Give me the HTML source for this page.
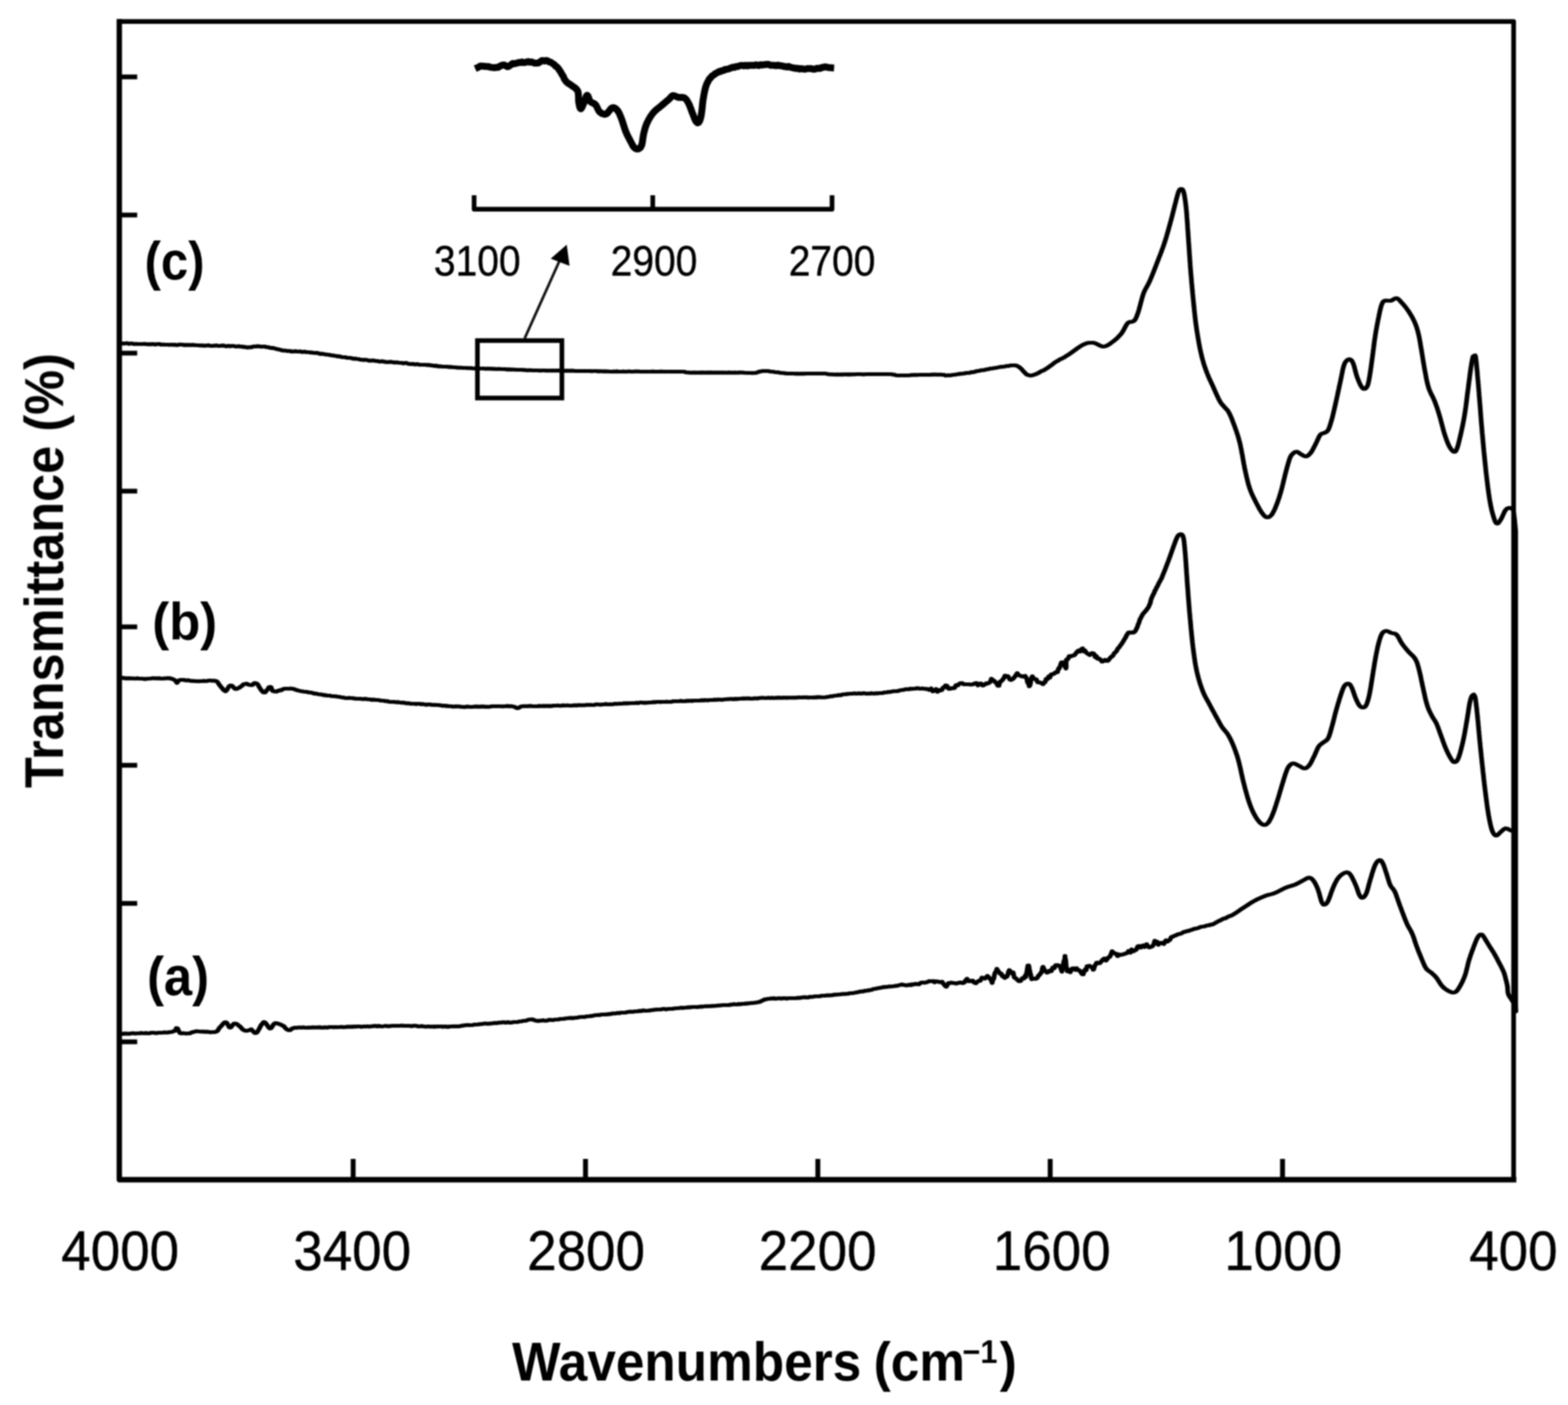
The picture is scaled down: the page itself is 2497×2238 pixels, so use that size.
<!DOCTYPE html>
<html><head><meta charset="utf-8"><title>FTIR spectra</title>
<style>
html,body{margin:0;padding:0;background:#fff;}
body{width:2497px;height:2238px;overflow:hidden;}
svg{display:block;}
text{font-family:"Liberation Sans",sans-serif;fill:#000;}
</style></head><body>
<svg width="2497" height="2238" viewBox="0 0 2497 2238">
<defs><filter id="soft" x="0" y="0" width="2497" height="2238" filterUnits="userSpaceOnUse"><feGaussianBlur stdDeviation="1.15"/></filter></defs>
<rect width="2497" height="2238" fill="#fff"/>
<g filter="url(#soft)">
<path d="M190 34.3H2410.4V1879.1" fill="none" stroke="#000" stroke-width="7.5" stroke-linejoin="round"/>
<path d="M190 30.3V1879.1H2414.7" fill="none" stroke="#000" stroke-width="8.6" stroke-linejoin="round"/>
<line x1="562.4" y1="1879" x2="562.4" y2="1846" stroke="#000" stroke-width="7.8"/>
<line x1="932.4" y1="1879" x2="932.4" y2="1846" stroke="#000" stroke-width="7.8"/>
<line x1="1302.4" y1="1879" x2="1302.4" y2="1846" stroke="#000" stroke-width="7.8"/>
<line x1="1672.4" y1="1879" x2="1672.4" y2="1846" stroke="#000" stroke-width="7.8"/>
<line x1="2042.4" y1="1879" x2="2042.4" y2="1846" stroke="#000" stroke-width="7.8"/>
<line x1="190" y1="122.5" x2="218.5" y2="122.5" stroke="#000" stroke-width="7.6"/>
<line x1="190" y1="342.5" x2="218.5" y2="342.5" stroke="#000" stroke-width="7.6"/>
<line x1="190" y1="562.5" x2="218.5" y2="562.5" stroke="#000" stroke-width="7.6"/>
<line x1="190" y1="782.3" x2="218.5" y2="782.3" stroke="#000" stroke-width="7.6"/>
<line x1="190" y1="998.5" x2="218.5" y2="998.5" stroke="#000" stroke-width="7.6"/>
<line x1="190" y1="1219" x2="218.5" y2="1219" stroke="#000" stroke-width="7.6"/>
<line x1="190" y1="1439" x2="218.5" y2="1439" stroke="#000" stroke-width="7.6"/>
<line x1="190" y1="1659.5" x2="218.5" y2="1659.5" stroke="#000" stroke-width="7.6"/>
<path d="M2410.5 812L2412.5 828L2414.2 846V1609" fill="none" stroke="#000" stroke-width="6.4" stroke-linecap="round" stroke-linejoin="round"/>
<g fill="none" stroke="#000" stroke-width="5.8" stroke-linejoin="round" stroke-linecap="round"><path transform="translate(-0.85 0)" d="M191.7 1646.7L193.1 1647.0L194.9 1646.9L196.8 1646.3L199.0 1646.5L201.4 1646.4L204.0 1646.6L206.7 1646.6L209.6 1645.9L212.5 1645.7L215.4 1646.5L218.4 1646.0L221.4 1646.2L224.3 1645.4L227.2 1645.7L230.0 1645.9L232.5 1645.4L235.1 1646.0L237.8 1645.9L240.6 1645.0L243.4 1644.9L246.3 1645.4L249.2 1645.7L252.1 1645.1L254.9 1644.9L257.7 1645.0L260.4 1644.5L263.0 1644.6L265.4 1644.7L267.7 1644.6L269.8 1644.2L271.7 1644.0L273.3 1643.7L277.9 1642.3L279.9 1639.9L280.7 1637.6L281.7 1637.6L283.0 1638.4L283.9 1640.8L284.9 1642.9L286.7 1645.5L288.8 1646.1L291.4 1645.7L294.3 1646.1L297.2 1646.4L300.0 1646.2L302.4 1646.0L304.6 1644.7L306.9 1644.2L309.7 1643.3L313.3 1642.5L315.4 1642.8L317.8 1643.2L320.5 1643.3L323.4 1643.2L326.3 1643.6L329.3 1643.3L332.2 1643.7L335.0 1644.4L337.6 1644.1L339.8 1643.9L341.7 1644.0L345.2 1643.0L347.1 1641.1L348.3 1638.7L350.0 1636.6L351.8 1634.8L353.6 1632.9L355.5 1630.5L357.3 1628.8L359.0 1628.3L360.6 1628.7L362.1 1630.7L363.6 1633.8L365.1 1636.2L366.7 1636.8L368.6 1635.5L370.4 1632.8L372.4 1630.7L375.0 1630.5L376.6 1630.9L378.4 1632.0L380.4 1634.0L382.4 1635.3L384.4 1637.5L386.4 1639.7L388.3 1640.8L390.0 1641.7L392.9 1641.8L395.4 1641.3L397.7 1640.7L400.0 1639.5L402.1 1641.6L404.0 1643.8L406.0 1645.5L408.3 1645.2L409.6 1644.1L411.0 1641.7L412.5 1639.2L414.0 1636.3L415.6 1633.1L417.1 1631.5L418.6 1629.3L420.0 1628.0L421.8 1628.6L423.5 1630.3L425.2 1632.6L426.9 1635.2L428.5 1637.4L430.0 1638.4L431.7 1637.7L433.3 1635.7L434.8 1632.9L436.4 1630.9L438.3 1629.7L440.4 1629.9L442.8 1630.6L445.3 1631.4L447.7 1632.4L450.0 1633.6L452.1 1634.6L454.1 1637.2L456.1 1639.2L458.0 1640.3L460.0 1641.2L461.7 1640.9L462.9 1640.3L465.2 1638.2L470.0 1636.9L471.6 1637.3L473.4 1636.9L475.3 1636.6L477.4 1636.6L479.6 1636.9L481.9 1636.5L484.3 1636.6L486.8 1637.0L489.4 1636.8L492.1 1636.7L494.9 1636.8L497.8 1636.4L500.8 1636.7L503.8 1636.7L506.9 1636.5L510.1 1636.4L513.3 1637.1L515.4 1636.7L517.5 1636.3L519.7 1636.7L521.9 1636.8L524.2 1636.0L526.5 1635.9L528.9 1636.0L531.3 1636.5L533.8 1635.8L536.3 1636.3L538.8 1636.2L541.3 1636.0L543.9 1635.6L546.5 1636.3L549.1 1636.1L551.7 1635.7L554.3 1635.3L556.9 1635.7L559.5 1635.4L562.1 1635.5L564.7 1635.2L567.3 1635.4L569.9 1634.8L572.5 1635.0L575.0 1635.6L577.5 1635.4L580.0 1634.8L582.5 1635.3L585.0 1634.7L587.6 1635.3L590.2 1635.0L592.8 1634.7L595.5 1634.4L598.1 1634.1L600.8 1635.0L603.5 1634.1L606.1 1634.8L608.8 1634.9L611.5 1634.5L614.1 1634.0L616.7 1634.7L619.3 1634.7L621.9 1634.4L624.4 1634.2L626.9 1634.0L629.4 1634.0L631.8 1633.8L634.1 1634.2L636.4 1634.0L638.6 1633.7L640.8 1633.6L642.8 1634.2L644.8 1633.8L646.7 1634.0L650.3 1633.8L653.6 1634.4L656.5 1634.5L659.2 1633.7L661.6 1634.0L663.9 1634.2L666.1 1635.0L668.2 1634.9L670.4 1634.5L672.5 1634.5L674.8 1635.1L677.3 1635.3L680.0 1635.4L682.3 1634.9L684.7 1635.4L687.2 1635.3L689.7 1635.1L692.2 1635.6L694.8 1634.9L697.4 1635.4L700.0 1634.8L702.6 1634.9L705.2 1635.7L707.8 1634.9L710.3 1635.5L712.8 1635.3L715.3 1635.5L717.7 1634.9L720.0 1634.8L722.8 1634.7L725.4 1635.1L727.9 1634.7L730.4 1634.8L732.8 1634.6L735.2 1633.6L737.6 1633.8L740.1 1633.1L742.5 1632.8L745.1 1632.6L747.7 1633.1L750.4 1632.8L753.3 1632.6L755.6 1632.0L758.1 1632.0L760.6 1632.0L763.2 1631.4L765.9 1631.4L768.7 1630.8L771.5 1630.4L774.2 1630.4L777.0 1630.8L779.8 1630.3L782.5 1630.4L785.1 1629.8L787.7 1629.4L790.1 1629.7L792.5 1629.6L794.7 1628.6L796.7 1629.2L800.2 1628.4L803.2 1628.4L805.8 1629.1L808.2 1628.2L810.5 1628.5L812.7 1629.2L815.0 1628.6L817.4 1628.1L820.0 1628.0L822.4 1627.8L824.9 1627.9L827.5 1626.8L830.1 1627.1L832.8 1626.1L835.5 1626.2L838.1 1625.7L840.5 1624.6L842.8 1624.2L844.9 1624.1L846.7 1623.6L849.4 1624.4L850.2 1624.5L851.8 1625.3L857.0 1626.5L858.5 1625.7L860.1 1626.0L861.8 1625.7L863.5 1625.5L865.4 1625.1L867.3 1625.9L869.3 1625.8L871.3 1625.6L873.5 1624.6L875.8 1624.5L878.3 1624.7L880.8 1624.9L883.5 1624.2L886.3 1624.1L889.2 1623.8L892.3 1623.1L895.5 1623.1L898.9 1622.6L902.4 1622.2L906.1 1621.7L910.0 1621.5L911.8 1622.0L913.7 1621.3L915.6 1621.3L917.5 1621.1L919.5 1621.2L921.4 1620.4L923.5 1620.1L925.5 1619.9L927.6 1619.7L929.7 1620.0L931.8 1619.8L934.0 1619.0L936.2 1618.8L938.4 1618.7L940.7 1618.5L943.0 1618.3L945.3 1617.7L947.6 1617.2L950.0 1617.1L952.4 1616.7L954.8 1616.9L957.3 1616.2L959.8 1615.9L962.3 1616.2L964.8 1615.6L967.4 1615.8L970.0 1615.2L972.6 1615.3L975.2 1614.3L977.9 1614.4L980.6 1614.4L983.3 1613.4L986.0 1614.0L988.8 1612.9L991.5 1613.2L994.4 1613.2L997.2 1612.7L1000.0 1611.9L1002.9 1611.5L1005.8 1611.6L1008.8 1611.7L1011.7 1610.8L1014.7 1611.2L1017.7 1610.2L1020.7 1610.7L1023.7 1609.5L1025.8 1609.6L1028.0 1610.1L1030.2 1609.8L1032.5 1609.7L1034.8 1609.5L1037.1 1609.2L1039.5 1608.9L1042.0 1608.3L1044.4 1608.3L1046.9 1607.9L1049.5 1608.2L1052.1 1608.0L1054.7 1607.4L1057.3 1607.0L1060.0 1607.8L1062.7 1607.4L1065.4 1607.0L1068.1 1606.8L1070.9 1606.9L1073.6 1606.3L1076.4 1606.1L1079.2 1605.8L1082.0 1605.6L1084.8 1605.2L1087.7 1605.6L1090.5 1605.2L1093.4 1605.1L1096.2 1604.4L1099.1 1604.6L1101.9 1604.2L1104.8 1604.0L1107.6 1603.9L1110.4 1604.3L1113.3 1603.7L1116.1 1603.5L1118.9 1603.5L1121.7 1603.0L1124.5 1602.6L1127.2 1602.9L1130.0 1602.7L1132.7 1602.7L1135.4 1602.3L1138.0 1602.4L1140.7 1602.2L1143.3 1601.6L1145.9 1601.6L1148.5 1601.4L1151.0 1601.0L1153.5 1601.0L1155.9 1601.0L1158.3 1601.2L1160.7 1601.0L1163.0 1600.2L1165.3 1600.4L1167.5 1599.7L1169.7 1599.5L1171.8 1599.8L1173.9 1600.0L1176.0 1599.2L1177.9 1599.6L1179.8 1599.6L1181.7 1598.8L1183.5 1599.1L1185.2 1599.1L1186.9 1598.5L1188.5 1598.6L1190.0 1598.5L1196.5 1597.7L1201.6 1597.3L1205.7 1596.7L1208.8 1596.2L1211.2 1595.2L1212.9 1594.2L1214.1 1593.8L1215.1 1593.2L1215.9 1593.1L1216.7 1592.8L1217.8 1591.7L1219.2 1591.9L1221.1 1591.6L1223.7 1590.8L1225.8 1590.8L1227.9 1590.3L1230.0 1590.7L1232.1 1589.9L1234.3 1590.8L1236.5 1590.6L1238.7 1590.4L1240.9 1590.0L1243.2 1590.6L1245.6 1590.6L1248.0 1589.8L1250.5 1590.4L1253.1 1590.5L1255.7 1590.2L1258.5 1590.2L1261.3 1589.9L1264.2 1590.2L1267.3 1590.2L1270.4 1589.4L1273.7 1589.6L1275.8 1589.1L1277.9 1588.7L1280.1 1588.7L1282.5 1588.3L1284.8 1588.9L1287.3 1588.8L1289.8 1587.7L1292.3 1588.0L1294.9 1587.6L1297.6 1587.1L1300.2 1587.1L1302.9 1586.8L1305.7 1587.0L1308.4 1586.1L1311.2 1586.0L1314.0 1586.0L1316.7 1585.4L1319.5 1585.7L1322.3 1585.4L1325.0 1585.4L1327.8 1584.5L1330.5 1584.3L1333.1 1584.3L1335.8 1583.8L1338.4 1583.9L1340.9 1583.3L1343.4 1583.4L1345.9 1583.3L1348.2 1583.0L1350.6 1582.9L1352.8 1582.3L1354.9 1581.9L1357.0 1582.1L1360.3 1581.5L1363.3 1580.9L1366.3 1580.3L1369.1 1579.7L1371.8 1579.1L1374.4 1579.3L1377.0 1578.1L1379.4 1578.3L1381.8 1577.6L1384.1 1577.5L1386.4 1576.8L1388.6 1576.6L1390.8 1575.3L1393.0 1575.2L1395.3 1574.8L1397.5 1574.1L1399.8 1573.9L1402.1 1573.3L1404.5 1573.1L1407.0 1572.2L1409.5 1572.3L1412.1 1572.0L1414.7 1571.5L1417.3 1571.3L1419.9 1571.4L1422.5 1571.0L1425.2 1570.5L1427.8 1570.4L1430.4 1569.7L1433.1 1569.0L1435.7 1568.2L1438.2 1568.7L1440.8 1569.2L1443.2 1569.7L1445.7 1569.4L1448.1 1568.3L1450.4 1569.3L1452.7 1567.7L1454.9 1568.4L1457.0 1567.1L1460.2 1567.5L1463.2 1567.8L1466.2 1565.6L1469.2 1564.8L1472.0 1565.5L1474.7 1564.9L1477.3 1564.0L1479.8 1562.7L1482.1 1563.1L1484.3 1563.0L1486.4 1562.6L1488.3 1564.7L1490.0 1563.1L1494.2 1563.6L1496.6 1564.5L1498.2 1564.2L1500.0 1563.7L1502.0 1566.7L1503.8 1568.6L1505.4 1570.8L1507.0 1571.7L1508.2 1569.5L1509.1 1568.3L1510.3 1565.9L1512.5 1566.0L1514.4 1565.1L1516.8 1565.7L1519.6 1565.8L1522.4 1566.7L1525.2 1566.1L1527.8 1565.2L1530.0 1564.8L1532.9 1566.1L1535.2 1565.3L1537.4 1562.0L1540.0 1559.2L1542.0 1563.0L1544.2 1562.1L1546.5 1563.1L1548.9 1562.0L1551.4 1565.1L1554.0 1566.3L1556.2 1563.9L1558.6 1562.3L1561.1 1562.3L1563.7 1557.2L1566.2 1558.0L1568.5 1558.8L1570.7 1556.4L1572.5 1554.5L1574.7 1557.0L1576.3 1559.0L1577.5 1559.8L1578.7 1561.9L1580.0 1565.7L1580.9 1561.3L1581.8 1558.0L1582.6 1559.0L1583.4 1554.2L1584.3 1550.2L1585.3 1548.2L1586.3 1547.3L1587.5 1543.3L1589.1 1546.2L1590.8 1548.1L1592.7 1551.1L1594.6 1551.0L1596.5 1555.3L1598.4 1555.3L1600.0 1557.8L1601.7 1555.0L1603.2 1556.0L1604.6 1553.5L1606.0 1547.9L1607.4 1545.2L1609.0 1548.4L1610.5 1548.0L1612.0 1550.7L1613.5 1549.2L1615.1 1556.7L1616.7 1558.0L1618.3 1558.7L1620.0 1560.6L1622.5 1562.8L1625.3 1562.5L1628.0 1558.2L1630.5 1558.7L1632.5 1554.3L1633.6 1556.3L1634.4 1550.6L1635.1 1549.7L1635.6 1545.4L1636.2 1542.0L1636.8 1538.3L1637.5 1539.1L1638.1 1537.9L1638.7 1539.7L1639.4 1545.3L1640.0 1546.5L1640.7 1551.7L1641.4 1552.2L1642.2 1557.6L1643.0 1559.8L1644.0 1559.0L1646.2 1558.6L1648.7 1559.3L1651.4 1558.1L1654.0 1553.9L1656.0 1552.4L1657.4 1549.5L1658.3 1549.5L1659.0 1548.2L1659.9 1542.4L1661.0 1540.1L1662.8 1544.0L1664.9 1546.5L1667.2 1549.3L1670.0 1548.1L1671.9 1545.9L1674.1 1547.0L1676.5 1541.3L1678.9 1542.3L1681.2 1537.3L1683.3 1537.6L1685.0 1537.5L1687.2 1538.4L1688.6 1540.7L1689.8 1544.1L1691.0 1547.7L1691.6 1544.5L1692.2 1542.9L1692.8 1538.1L1693.3 1537.5L1693.9 1532.2L1694.4 1530.5L1695.0 1529.5L1695.5 1528.2L1696.0 1522.6L1696.4 1527.2L1696.8 1529.1L1697.1 1528.8L1697.4 1532.1L1697.7 1536.4L1698.1 1541.3L1698.6 1541.6L1699.2 1546.4L1700.0 1547.3L1702.0 1545.1L1704.4 1548.6L1707.1 1542.8L1709.9 1542.4L1712.5 1544.9L1714.6 1542.4L1716.9 1545.4L1719.1 1545.6L1721.2 1548.7L1723.2 1551.6L1725.0 1552.1L1726.8 1546.4L1728.3 1544.2L1729.7 1545.5L1731.0 1539.0L1732.5 1538.8L1734.7 1538.3L1737.0 1539.8L1739.2 1541.1L1741.0 1544.7L1741.9 1543.9L1742.3 1541.3L1743.0 1539.4L1745.0 1535.8L1746.6 1533.4L1748.6 1533.7L1751.0 1534.4L1753.6 1531.7L1756.2 1528.6L1758.8 1526.7L1761.2 1530.2L1763.3 1527.4L1765.0 1525.2L1767.4 1524.1L1768.7 1521.3L1769.6 1518.9L1771.0 1515.2L1772.8 1517.0L1774.6 1518.6L1776.9 1518.9L1780.0 1523.0L1782.0 1520.3L1784.2 1521.1L1786.6 1520.7L1789.2 1520.0L1791.8 1519.0L1794.6 1518.2L1797.3 1514.7L1800.0 1517.5L1802.2 1512.3L1804.5 1515.4L1807.0 1514.0L1809.4 1512.8L1811.9 1507.5L1814.3 1506.7L1816.6 1509.5L1818.8 1506.9L1820.7 1505.7L1822.5 1508.5L1826.0 1504.0L1828.5 1508.2L1830.5 1509.3L1832.5 1508.1L1834.3 1507.8L1835.7 1506.6L1837.1 1504.7L1839.0 1498.5L1840.8 1501.2L1842.6 1500.0L1844.7 1504.9L1847.2 1502.1L1850.0 1501.6L1851.6 1502.7L1853.3 1503.6L1855.0 1500.2L1856.9 1497.9L1858.8 1499.9L1860.8 1498.4L1863.0 1497.1L1865.2 1492.7L1867.6 1491.9L1870.0 1490.7L1872.0 1490.1L1874.1 1489.0L1876.2 1488.1L1878.5 1487.7L1880.8 1487.0L1883.2 1485.7L1885.6 1484.3L1888.0 1484.1L1890.4 1483.0L1892.9 1482.8L1895.3 1481.7L1897.7 1481.1L1900.0 1480.2L1902.5 1479.3L1905.2 1479.0L1907.9 1478.3L1910.6 1477.0L1913.3 1476.2L1915.9 1475.9L1918.6 1475.5L1921.1 1474.4L1923.6 1474.1L1925.9 1473.8L1928.0 1472.6L1930.0 1472.9L1932.9 1471.6L1935.3 1470.1L1937.3 1469.0L1939.2 1468.0L1941.0 1466.9L1942.9 1466.4L1945.0 1465.0L1947.1 1464.1L1949.2 1462.8L1951.4 1462.9L1953.6 1461.3L1955.8 1460.4L1958.1 1459.1L1960.3 1458.6L1962.5 1457.5L1964.7 1456.3L1966.9 1454.9L1969.1 1453.5L1971.2 1452.0L1973.4 1450.5L1975.6 1448.9L1977.8 1447.4L1980.0 1446.0L1982.2 1444.6L1984.4 1443.1L1986.6 1441.7L1988.8 1440.3L1990.9 1438.9L1993.1 1437.5L1995.3 1436.2L1997.5 1435.0L1999.7 1433.8L2001.9 1432.7L2004.2 1431.6L2006.4 1430.6L2008.6 1429.6L2010.8 1428.7L2012.9 1427.8L2015.0 1427.0L2017.6 1426.1L2020.1 1425.4L2022.5 1424.8L2024.9 1424.2L2027.4 1423.4L2030.0 1422.5L2032.1 1421.6L2034.3 1420.6L2036.5 1419.5L2038.8 1418.3L2041.0 1417.1L2043.2 1416.0L2045.4 1414.9L2047.5 1414.0L2050.2 1413.0L2052.8 1412.1L2055.3 1411.4L2057.8 1410.6L2060.2 1409.9L2062.5 1409.0L2064.8 1408.0L2066.9 1406.9L2069.1 1405.7L2071.1 1404.6L2073.1 1403.5L2075.0 1402.5L2077.7 1401.0L2080.3 1399.5L2082.7 1398.3L2085.0 1398.0L2087.1 1398.6L2089.0 1399.9L2090.8 1401.7L2092.5 1404.0L2093.6 1405.7L2094.8 1407.7L2095.8 1409.9L2096.9 1412.2L2098.0 1414.8L2099.0 1417.5L2099.8 1419.8L2100.6 1422.4L2101.4 1425.2L2102.1 1428.1L2102.9 1430.9L2103.6 1433.5L2104.3 1435.7L2105.0 1437.5L2107.3 1440.9L2109.5 1441.0L2111.2 1440.2L2113.0 1438.4L2115.0 1435.0L2115.7 1433.4L2116.5 1431.4L2117.4 1429.2L2118.2 1426.8L2119.1 1424.3L2119.9 1421.8L2120.8 1419.4L2121.7 1417.1L2122.5 1415.0L2123.6 1412.5L2124.6 1410.1L2125.7 1407.8L2126.8 1405.6L2127.9 1403.6L2128.9 1401.7L2130.0 1400.0L2131.9 1397.5L2133.8 1395.5L2135.6 1393.9L2137.5 1392.5L2140.1 1390.9L2142.6 1389.8L2145.0 1389.5L2147.0 1390.0L2148.9 1391.4L2151.0 1394.0L2152.1 1395.7L2153.2 1397.7L2154.4 1400.1L2155.6 1402.5L2156.8 1405.1L2157.9 1407.6L2159.0 1410.0L2160.0 1412.4L2160.9 1414.9L2161.8 1417.5L2162.6 1420.0L2163.4 1422.3L2164.2 1424.3L2165.0 1426.0L2166.7 1428.6L2168.3 1430.0L2170.0 1430.0L2171.4 1429.3L2172.9 1427.9L2174.4 1425.7L2176.0 1422.5L2176.7 1420.7L2177.4 1418.5L2178.1 1416.1L2178.8 1413.5L2179.5 1410.8L2180.2 1408.1L2181.0 1405.3L2181.7 1402.6L2182.5 1400.0L2183.3 1397.4L2184.1 1394.7L2184.9 1391.9L2185.8 1389.2L2186.6 1386.5L2187.5 1383.9L2188.3 1381.5L2189.2 1379.3L2190.0 1377.5L2191.8 1374.3L2193.6 1372.0L2195.4 1370.6L2197.0 1370.0L2198.9 1370.5L2200.6 1372.5L2202.5 1376.0L2203.3 1377.8L2204.1 1379.9L2204.9 1382.3L2205.8 1384.9L2206.6 1387.6L2207.5 1390.2L2208.3 1392.7L2209.0 1395.0L2209.9 1397.8L2210.7 1400.5L2211.5 1403.1L2212.2 1405.5L2213.1 1407.8L2214.0 1410.0L2215.3 1412.2L2216.7 1414.0L2218.1 1415.7L2219.6 1417.6L2221.0 1420.0L2222.0 1422.1L2222.9 1424.5L2223.8 1427.0L2224.7 1429.6L2225.7 1432.3L2226.6 1434.9L2227.5 1437.5L2228.4 1440.0L2229.3 1442.5L2230.3 1445.0L2231.2 1447.5L2232.1 1450.0L2233.0 1452.5L2234.0 1455.0L2234.8 1457.2L2235.7 1459.4L2236.5 1461.7L2237.4 1463.9L2238.3 1466.1L2239.2 1468.3L2240.1 1470.4L2241.0 1472.5L2242.1 1474.7L2243.2 1476.8L2244.4 1478.8L2245.6 1480.9L2246.8 1482.9L2247.9 1485.1L2249.0 1487.5L2249.9 1489.8L2250.8 1492.1L2251.7 1494.6L2252.5 1497.2L2253.3 1499.8L2254.2 1502.4L2255.1 1505.0L2256.0 1507.5L2256.9 1509.7L2257.7 1512.0L2258.6 1514.4L2259.5 1516.7L2260.5 1519.0L2261.4 1521.2L2262.3 1523.4L2263.1 1525.5L2264.0 1527.5L2265.0 1530.0L2266.0 1532.4L2267.0 1534.7L2267.9 1536.9L2268.9 1538.9L2269.9 1540.8L2271.0 1542.5L2272.7 1544.5L2274.5 1546.0L2276.4 1547.4L2278.3 1548.6L2280.0 1550.0L2282.0 1551.8L2283.8 1553.4L2285.6 1555.3L2287.5 1557.5L2288.9 1559.4L2290.2 1561.5L2291.7 1563.8L2293.1 1566.0L2294.5 1568.1L2296.0 1570.0L2297.8 1571.9L2299.5 1573.6L2301.3 1575.0L2303.1 1576.3L2305.0 1577.5L2307.5 1578.9L2310.1 1580.1L2312.7 1580.9L2315.0 1581.0L2317.0 1580.5L2318.8 1579.5L2320.5 1577.7L2322.5 1575.0L2323.5 1573.4L2324.6 1571.6L2325.7 1569.6L2326.9 1567.5L2328.1 1565.2L2329.3 1562.7L2330.4 1560.2L2331.5 1557.6L2332.5 1555.0L2333.3 1552.8L2334.0 1550.5L2334.7 1548.0L2335.3 1545.6L2335.9 1543.0L2336.6 1540.4L2337.2 1537.8L2337.8 1535.2L2338.5 1532.6L2339.2 1530.0L2340.0 1527.5L2340.8 1525.2L2341.6 1522.7L2342.4 1520.2L2343.3 1517.7L2344.2 1515.1L2345.2 1512.6L2346.1 1510.2L2346.9 1507.8L2347.8 1505.6L2348.6 1503.5L2349.3 1501.7L2350.0 1500.0L2351.6 1496.2L2352.9 1493.7L2354.0 1491.9L2355.0 1490.5L2356.8 1488.8L2358.5 1488.5L2360.0 1488.8L2362.0 1491.0L2363.0 1492.5L2364.3 1494.4L2365.6 1496.7L2367.0 1499.1L2368.5 1501.5L2370.0 1504.0L2371.2 1505.9L2372.4 1507.9L2373.7 1509.9L2375.1 1512.0L2376.4 1514.1L2377.7 1516.1L2378.9 1518.1L2380.0 1520.0L2381.3 1522.3L2382.5 1524.5L2383.7 1526.6L2384.7 1528.6L2385.8 1530.8L2387.0 1533.0L2388.1 1535.1L2389.2 1537.2L2390.4 1539.4L2391.5 1541.7L2392.6 1543.9L2393.6 1546.0L2394.5 1548.0L2395.5 1550.6L2396.2 1553.1L2396.9 1555.4L2397.4 1557.7L2398.0 1560.0L2398.6 1562.2L2399.1 1564.4L2399.6 1566.6L2400.1 1568.8L2400.5 1571.0L2400.8 1573.4L2400.9 1575.9L2401.1 1578.4L2401.3 1580.8L2401.8 1583.0L2402.8 1585.5L2404.1 1587.7L2405.6 1589.8L2407.0 1592.0L2408.4 1594.2L2410.0 1596.4L2411.4 1598.7L2412.5 1601.0L2413.2 1603.7L2413.6 1606.6L2413.8 1609.2L2414.0 1611.0"/><path transform="translate(0.85 0)" d="M191.7 1646.7L193.1 1647.0L194.9 1646.9L196.8 1646.3L199.0 1646.5L201.4 1646.4L204.0 1646.6L206.7 1646.6L209.6 1645.9L212.5 1645.7L215.4 1646.5L218.4 1646.0L221.4 1646.2L224.3 1645.4L227.2 1645.7L230.0 1645.9L232.5 1645.4L235.1 1646.0L237.8 1645.9L240.6 1645.0L243.4 1644.9L246.3 1645.4L249.2 1645.7L252.1 1645.1L254.9 1644.9L257.7 1645.0L260.4 1644.5L263.0 1644.6L265.4 1644.7L267.7 1644.6L269.8 1644.2L271.7 1644.0L273.3 1643.7L277.9 1642.3L279.9 1639.9L280.7 1637.6L281.7 1637.6L283.0 1638.4L283.9 1640.8L284.9 1642.9L286.7 1645.5L288.8 1646.1L291.4 1645.7L294.3 1646.1L297.2 1646.4L300.0 1646.2L302.4 1646.0L304.6 1644.7L306.9 1644.2L309.7 1643.3L313.3 1642.5L315.4 1642.8L317.8 1643.2L320.5 1643.3L323.4 1643.2L326.3 1643.6L329.3 1643.3L332.2 1643.7L335.0 1644.4L337.6 1644.1L339.8 1643.9L341.7 1644.0L345.2 1643.0L347.1 1641.1L348.3 1638.7L350.0 1636.6L351.8 1634.8L353.6 1632.9L355.5 1630.5L357.3 1628.8L359.0 1628.3L360.6 1628.7L362.1 1630.7L363.6 1633.8L365.1 1636.2L366.7 1636.8L368.6 1635.5L370.4 1632.8L372.4 1630.7L375.0 1630.5L376.6 1630.9L378.4 1632.0L380.4 1634.0L382.4 1635.3L384.4 1637.5L386.4 1639.7L388.3 1640.8L390.0 1641.7L392.9 1641.8L395.4 1641.3L397.7 1640.7L400.0 1639.5L402.1 1641.6L404.0 1643.8L406.0 1645.5L408.3 1645.2L409.6 1644.1L411.0 1641.7L412.5 1639.2L414.0 1636.3L415.6 1633.1L417.1 1631.5L418.6 1629.3L420.0 1628.0L421.8 1628.6L423.5 1630.3L425.2 1632.6L426.9 1635.2L428.5 1637.4L430.0 1638.4L431.7 1637.7L433.3 1635.7L434.8 1632.9L436.4 1630.9L438.3 1629.7L440.4 1629.9L442.8 1630.6L445.3 1631.4L447.7 1632.4L450.0 1633.6L452.1 1634.6L454.1 1637.2L456.1 1639.2L458.0 1640.3L460.0 1641.2L461.7 1640.9L462.9 1640.3L465.2 1638.2L470.0 1636.9L471.6 1637.3L473.4 1636.9L475.3 1636.6L477.4 1636.6L479.6 1636.9L481.9 1636.5L484.3 1636.6L486.8 1637.0L489.4 1636.8L492.1 1636.7L494.9 1636.8L497.8 1636.4L500.8 1636.7L503.8 1636.7L506.9 1636.5L510.1 1636.4L513.3 1637.1L515.4 1636.7L517.5 1636.3L519.7 1636.7L521.9 1636.8L524.2 1636.0L526.5 1635.9L528.9 1636.0L531.3 1636.5L533.8 1635.8L536.3 1636.3L538.8 1636.2L541.3 1636.0L543.9 1635.6L546.5 1636.3L549.1 1636.1L551.7 1635.7L554.3 1635.3L556.9 1635.7L559.5 1635.4L562.1 1635.5L564.7 1635.2L567.3 1635.4L569.9 1634.8L572.5 1635.0L575.0 1635.6L577.5 1635.4L580.0 1634.8L582.5 1635.3L585.0 1634.7L587.6 1635.3L590.2 1635.0L592.8 1634.7L595.5 1634.4L598.1 1634.1L600.8 1635.0L603.5 1634.1L606.1 1634.8L608.8 1634.9L611.5 1634.5L614.1 1634.0L616.7 1634.7L619.3 1634.7L621.9 1634.4L624.4 1634.2L626.9 1634.0L629.4 1634.0L631.8 1633.8L634.1 1634.2L636.4 1634.0L638.6 1633.7L640.8 1633.6L642.8 1634.2L644.8 1633.8L646.7 1634.0L650.3 1633.8L653.6 1634.4L656.5 1634.5L659.2 1633.7L661.6 1634.0L663.9 1634.2L666.1 1635.0L668.2 1634.9L670.4 1634.5L672.5 1634.5L674.8 1635.1L677.3 1635.3L680.0 1635.4L682.3 1634.9L684.7 1635.4L687.2 1635.3L689.7 1635.1L692.2 1635.6L694.8 1634.9L697.4 1635.4L700.0 1634.8L702.6 1634.9L705.2 1635.7L707.8 1634.9L710.3 1635.5L712.8 1635.3L715.3 1635.5L717.7 1634.9L720.0 1634.8L722.8 1634.7L725.4 1635.1L727.9 1634.7L730.4 1634.8L732.8 1634.6L735.2 1633.6L737.6 1633.8L740.1 1633.1L742.5 1632.8L745.1 1632.6L747.7 1633.1L750.4 1632.8L753.3 1632.6L755.6 1632.0L758.1 1632.0L760.6 1632.0L763.2 1631.4L765.9 1631.4L768.7 1630.8L771.5 1630.4L774.2 1630.4L777.0 1630.8L779.8 1630.3L782.5 1630.4L785.1 1629.8L787.7 1629.4L790.1 1629.7L792.5 1629.6L794.7 1628.6L796.7 1629.2L800.2 1628.4L803.2 1628.4L805.8 1629.1L808.2 1628.2L810.5 1628.5L812.7 1629.2L815.0 1628.6L817.4 1628.1L820.0 1628.0L822.4 1627.8L824.9 1627.9L827.5 1626.8L830.1 1627.1L832.8 1626.1L835.5 1626.2L838.1 1625.7L840.5 1624.6L842.8 1624.2L844.9 1624.1L846.7 1623.6L849.4 1624.4L850.2 1624.5L851.8 1625.3L857.0 1626.5L858.5 1625.7L860.1 1626.0L861.8 1625.7L863.5 1625.5L865.4 1625.1L867.3 1625.9L869.3 1625.8L871.3 1625.6L873.5 1624.6L875.8 1624.5L878.3 1624.7L880.8 1624.9L883.5 1624.2L886.3 1624.1L889.2 1623.8L892.3 1623.1L895.5 1623.1L898.9 1622.6L902.4 1622.2L906.1 1621.7L910.0 1621.5L911.8 1622.0L913.7 1621.3L915.6 1621.3L917.5 1621.1L919.5 1621.2L921.4 1620.4L923.5 1620.1L925.5 1619.9L927.6 1619.7L929.7 1620.0L931.8 1619.8L934.0 1619.0L936.2 1618.8L938.4 1618.7L940.7 1618.5L943.0 1618.3L945.3 1617.7L947.6 1617.2L950.0 1617.1L952.4 1616.7L954.8 1616.9L957.3 1616.2L959.8 1615.9L962.3 1616.2L964.8 1615.6L967.4 1615.8L970.0 1615.2L972.6 1615.3L975.2 1614.3L977.9 1614.4L980.6 1614.4L983.3 1613.4L986.0 1614.0L988.8 1612.9L991.5 1613.2L994.4 1613.2L997.2 1612.7L1000.0 1611.9L1002.9 1611.5L1005.8 1611.6L1008.8 1611.7L1011.7 1610.8L1014.7 1611.2L1017.7 1610.2L1020.7 1610.7L1023.7 1609.5L1025.8 1609.6L1028.0 1610.1L1030.2 1609.8L1032.5 1609.7L1034.8 1609.5L1037.1 1609.2L1039.5 1608.9L1042.0 1608.3L1044.4 1608.3L1046.9 1607.9L1049.5 1608.2L1052.1 1608.0L1054.7 1607.4L1057.3 1607.0L1060.0 1607.8L1062.7 1607.4L1065.4 1607.0L1068.1 1606.8L1070.9 1606.9L1073.6 1606.3L1076.4 1606.1L1079.2 1605.8L1082.0 1605.6L1084.8 1605.2L1087.7 1605.6L1090.5 1605.2L1093.4 1605.1L1096.2 1604.4L1099.1 1604.6L1101.9 1604.2L1104.8 1604.0L1107.6 1603.9L1110.4 1604.3L1113.3 1603.7L1116.1 1603.5L1118.9 1603.5L1121.7 1603.0L1124.5 1602.6L1127.2 1602.9L1130.0 1602.7L1132.7 1602.7L1135.4 1602.3L1138.0 1602.4L1140.7 1602.2L1143.3 1601.6L1145.9 1601.6L1148.5 1601.4L1151.0 1601.0L1153.5 1601.0L1155.9 1601.0L1158.3 1601.2L1160.7 1601.0L1163.0 1600.2L1165.3 1600.4L1167.5 1599.7L1169.7 1599.5L1171.8 1599.8L1173.9 1600.0L1176.0 1599.2L1177.9 1599.6L1179.8 1599.6L1181.7 1598.8L1183.5 1599.1L1185.2 1599.1L1186.9 1598.5L1188.5 1598.6L1190.0 1598.5L1196.5 1597.7L1201.6 1597.3L1205.7 1596.7L1208.8 1596.2L1211.2 1595.2L1212.9 1594.2L1214.1 1593.8L1215.1 1593.2L1215.9 1593.1L1216.7 1592.8L1217.8 1591.7L1219.2 1591.9L1221.1 1591.6L1223.7 1590.8L1225.8 1590.8L1227.9 1590.3L1230.0 1590.7L1232.1 1589.9L1234.3 1590.8L1236.5 1590.6L1238.7 1590.4L1240.9 1590.0L1243.2 1590.6L1245.6 1590.6L1248.0 1589.8L1250.5 1590.4L1253.1 1590.5L1255.7 1590.2L1258.5 1590.2L1261.3 1589.9L1264.2 1590.2L1267.3 1590.2L1270.4 1589.4L1273.7 1589.6L1275.8 1589.1L1277.9 1588.7L1280.1 1588.7L1282.5 1588.3L1284.8 1588.9L1287.3 1588.8L1289.8 1587.7L1292.3 1588.0L1294.9 1587.6L1297.6 1587.1L1300.2 1587.1L1302.9 1586.8L1305.7 1587.0L1308.4 1586.1L1311.2 1586.0L1314.0 1586.0L1316.7 1585.4L1319.5 1585.7L1322.3 1585.4L1325.0 1585.4L1327.8 1584.5L1330.5 1584.3L1333.1 1584.3L1335.8 1583.8L1338.4 1583.9L1340.9 1583.3L1343.4 1583.4L1345.9 1583.3L1348.2 1583.0L1350.6 1582.9L1352.8 1582.3L1354.9 1581.9L1357.0 1582.1L1360.3 1581.5L1363.3 1580.9L1366.3 1580.3L1369.1 1579.7L1371.8 1579.1L1374.4 1579.3L1377.0 1578.1L1379.4 1578.3L1381.8 1577.6L1384.1 1577.5L1386.4 1576.8L1388.6 1576.6L1390.8 1575.3L1393.0 1575.2L1395.3 1574.8L1397.5 1574.1L1399.8 1573.9L1402.1 1573.3L1404.5 1573.1L1407.0 1572.2L1409.5 1572.3L1412.1 1572.0L1414.7 1571.5L1417.3 1571.3L1419.9 1571.4L1422.5 1571.0L1425.2 1570.5L1427.8 1570.4L1430.4 1569.7L1433.1 1569.0L1435.7 1568.2L1438.2 1568.7L1440.8 1569.2L1443.2 1569.7L1445.7 1569.4L1448.1 1568.3L1450.4 1569.3L1452.7 1567.7L1454.9 1568.4L1457.0 1567.1L1460.2 1567.5L1463.2 1567.8L1466.2 1565.6L1469.2 1564.8L1472.0 1565.5L1474.7 1564.9L1477.3 1564.0L1479.8 1562.7L1482.1 1563.1L1484.3 1563.0L1486.4 1562.6L1488.3 1564.7L1490.0 1563.1L1494.2 1563.6L1496.6 1564.5L1498.2 1564.2L1500.0 1563.7L1502.0 1566.7L1503.8 1568.6L1505.4 1570.8L1507.0 1571.7L1508.2 1569.5L1509.1 1568.3L1510.3 1565.9L1512.5 1566.0L1514.4 1565.1L1516.8 1565.7L1519.6 1565.8L1522.4 1566.7L1525.2 1566.1L1527.8 1565.2L1530.0 1564.8L1532.9 1566.1L1535.2 1565.3L1537.4 1562.0L1540.0 1559.2L1542.0 1563.0L1544.2 1562.1L1546.5 1563.1L1548.9 1562.0L1551.4 1565.1L1554.0 1566.3L1556.2 1563.9L1558.6 1562.3L1561.1 1562.3L1563.7 1557.2L1566.2 1558.0L1568.5 1558.8L1570.7 1556.4L1572.5 1554.5L1574.7 1557.0L1576.3 1559.0L1577.5 1559.8L1578.7 1561.9L1580.0 1565.7L1580.9 1561.3L1581.8 1558.0L1582.6 1559.0L1583.4 1554.2L1584.3 1550.2L1585.3 1548.2L1586.3 1547.3L1587.5 1543.3L1589.1 1546.2L1590.8 1548.1L1592.7 1551.1L1594.6 1551.0L1596.5 1555.3L1598.4 1555.3L1600.0 1557.8L1601.7 1555.0L1603.2 1556.0L1604.6 1553.5L1606.0 1547.9L1607.4 1545.2L1609.0 1548.4L1610.5 1548.0L1612.0 1550.7L1613.5 1549.2L1615.1 1556.7L1616.7 1558.0L1618.3 1558.7L1620.0 1560.6L1622.5 1562.8L1625.3 1562.5L1628.0 1558.2L1630.5 1558.7L1632.5 1554.3L1633.6 1556.3L1634.4 1550.6L1635.1 1549.7L1635.6 1545.4L1636.2 1542.0L1636.8 1538.3L1637.5 1539.1L1638.1 1537.9L1638.7 1539.7L1639.4 1545.3L1640.0 1546.5L1640.7 1551.7L1641.4 1552.2L1642.2 1557.6L1643.0 1559.8L1644.0 1559.0L1646.2 1558.6L1648.7 1559.3L1651.4 1558.1L1654.0 1553.9L1656.0 1552.4L1657.4 1549.5L1658.3 1549.5L1659.0 1548.2L1659.9 1542.4L1661.0 1540.1L1662.8 1544.0L1664.9 1546.5L1667.2 1549.3L1670.0 1548.1L1671.9 1545.9L1674.1 1547.0L1676.5 1541.3L1678.9 1542.3L1681.2 1537.3L1683.3 1537.6L1685.0 1537.5L1687.2 1538.4L1688.6 1540.7L1689.8 1544.1L1691.0 1547.7L1691.6 1544.5L1692.2 1542.9L1692.8 1538.1L1693.3 1537.5L1693.9 1532.2L1694.4 1530.5L1695.0 1529.5L1695.5 1528.2L1696.0 1522.6L1696.4 1527.2L1696.8 1529.1L1697.1 1528.8L1697.4 1532.1L1697.7 1536.4L1698.1 1541.3L1698.6 1541.6L1699.2 1546.4L1700.0 1547.3L1702.0 1545.1L1704.4 1548.6L1707.1 1542.8L1709.9 1542.4L1712.5 1544.9L1714.6 1542.4L1716.9 1545.4L1719.1 1545.6L1721.2 1548.7L1723.2 1551.6L1725.0 1552.1L1726.8 1546.4L1728.3 1544.2L1729.7 1545.5L1731.0 1539.0L1732.5 1538.8L1734.7 1538.3L1737.0 1539.8L1739.2 1541.1L1741.0 1544.7L1741.9 1543.9L1742.3 1541.3L1743.0 1539.4L1745.0 1535.8L1746.6 1533.4L1748.6 1533.7L1751.0 1534.4L1753.6 1531.7L1756.2 1528.6L1758.8 1526.7L1761.2 1530.2L1763.3 1527.4L1765.0 1525.2L1767.4 1524.1L1768.7 1521.3L1769.6 1518.9L1771.0 1515.2L1772.8 1517.0L1774.6 1518.6L1776.9 1518.9L1780.0 1523.0L1782.0 1520.3L1784.2 1521.1L1786.6 1520.7L1789.2 1520.0L1791.8 1519.0L1794.6 1518.2L1797.3 1514.7L1800.0 1517.5L1802.2 1512.3L1804.5 1515.4L1807.0 1514.0L1809.4 1512.8L1811.9 1507.5L1814.3 1506.7L1816.6 1509.5L1818.8 1506.9L1820.7 1505.7L1822.5 1508.5L1826.0 1504.0L1828.5 1508.2L1830.5 1509.3L1832.5 1508.1L1834.3 1507.8L1835.7 1506.6L1837.1 1504.7L1839.0 1498.5L1840.8 1501.2L1842.6 1500.0L1844.7 1504.9L1847.2 1502.1L1850.0 1501.6L1851.6 1502.7L1853.3 1503.6L1855.0 1500.2L1856.9 1497.9L1858.8 1499.9L1860.8 1498.4L1863.0 1497.1L1865.2 1492.7L1867.6 1491.9L1870.0 1490.7L1872.0 1490.1L1874.1 1489.0L1876.2 1488.1L1878.5 1487.7L1880.8 1487.0L1883.2 1485.7L1885.6 1484.3L1888.0 1484.1L1890.4 1483.0L1892.9 1482.8L1895.3 1481.7L1897.7 1481.1L1900.0 1480.2L1902.5 1479.3L1905.2 1479.0L1907.9 1478.3L1910.6 1477.0L1913.3 1476.2L1915.9 1475.9L1918.6 1475.5L1921.1 1474.4L1923.6 1474.1L1925.9 1473.8L1928.0 1472.6L1930.0 1472.9L1932.9 1471.6L1935.3 1470.1L1937.3 1469.0L1939.2 1468.0L1941.0 1466.9L1942.9 1466.4L1945.0 1465.0L1947.1 1464.1L1949.2 1462.8L1951.4 1462.9L1953.6 1461.3L1955.8 1460.4L1958.1 1459.1L1960.3 1458.6L1962.5 1457.5L1964.7 1456.3L1966.9 1454.9L1969.1 1453.5L1971.2 1452.0L1973.4 1450.5L1975.6 1448.9L1977.8 1447.4L1980.0 1446.0L1982.2 1444.6L1984.4 1443.1L1986.6 1441.7L1988.8 1440.3L1990.9 1438.9L1993.1 1437.5L1995.3 1436.2L1997.5 1435.0L1999.7 1433.8L2001.9 1432.7L2004.2 1431.6L2006.4 1430.6L2008.6 1429.6L2010.8 1428.7L2012.9 1427.8L2015.0 1427.0L2017.6 1426.1L2020.1 1425.4L2022.5 1424.8L2024.9 1424.2L2027.4 1423.4L2030.0 1422.5L2032.1 1421.6L2034.3 1420.6L2036.5 1419.5L2038.8 1418.3L2041.0 1417.1L2043.2 1416.0L2045.4 1414.9L2047.5 1414.0L2050.2 1413.0L2052.8 1412.1L2055.3 1411.4L2057.8 1410.6L2060.2 1409.9L2062.5 1409.0L2064.8 1408.0L2066.9 1406.9L2069.1 1405.7L2071.1 1404.6L2073.1 1403.5L2075.0 1402.5L2077.7 1401.0L2080.3 1399.5L2082.7 1398.3L2085.0 1398.0L2087.1 1398.6L2089.0 1399.9L2090.8 1401.7L2092.5 1404.0L2093.6 1405.7L2094.8 1407.7L2095.8 1409.9L2096.9 1412.2L2098.0 1414.8L2099.0 1417.5L2099.8 1419.8L2100.6 1422.4L2101.4 1425.2L2102.1 1428.1L2102.9 1430.9L2103.6 1433.5L2104.3 1435.7L2105.0 1437.5L2107.3 1440.9L2109.5 1441.0L2111.2 1440.2L2113.0 1438.4L2115.0 1435.0L2115.7 1433.4L2116.5 1431.4L2117.4 1429.2L2118.2 1426.8L2119.1 1424.3L2119.9 1421.8L2120.8 1419.4L2121.7 1417.1L2122.5 1415.0L2123.6 1412.5L2124.6 1410.1L2125.7 1407.8L2126.8 1405.6L2127.9 1403.6L2128.9 1401.7L2130.0 1400.0L2131.9 1397.5L2133.8 1395.5L2135.6 1393.9L2137.5 1392.5L2140.1 1390.9L2142.6 1389.8L2145.0 1389.5L2147.0 1390.0L2148.9 1391.4L2151.0 1394.0L2152.1 1395.7L2153.2 1397.7L2154.4 1400.1L2155.6 1402.5L2156.8 1405.1L2157.9 1407.6L2159.0 1410.0L2160.0 1412.4L2160.9 1414.9L2161.8 1417.5L2162.6 1420.0L2163.4 1422.3L2164.2 1424.3L2165.0 1426.0L2166.7 1428.6L2168.3 1430.0L2170.0 1430.0L2171.4 1429.3L2172.9 1427.9L2174.4 1425.7L2176.0 1422.5L2176.7 1420.7L2177.4 1418.5L2178.1 1416.1L2178.8 1413.5L2179.5 1410.8L2180.2 1408.1L2181.0 1405.3L2181.7 1402.6L2182.5 1400.0L2183.3 1397.4L2184.1 1394.7L2184.9 1391.9L2185.8 1389.2L2186.6 1386.5L2187.5 1383.9L2188.3 1381.5L2189.2 1379.3L2190.0 1377.5L2191.8 1374.3L2193.6 1372.0L2195.4 1370.6L2197.0 1370.0L2198.9 1370.5L2200.6 1372.5L2202.5 1376.0L2203.3 1377.8L2204.1 1379.9L2204.9 1382.3L2205.8 1384.9L2206.6 1387.6L2207.5 1390.2L2208.3 1392.7L2209.0 1395.0L2209.9 1397.8L2210.7 1400.5L2211.5 1403.1L2212.2 1405.5L2213.1 1407.8L2214.0 1410.0L2215.3 1412.2L2216.7 1414.0L2218.1 1415.7L2219.6 1417.6L2221.0 1420.0L2222.0 1422.1L2222.9 1424.5L2223.8 1427.0L2224.7 1429.6L2225.7 1432.3L2226.6 1434.9L2227.5 1437.5L2228.4 1440.0L2229.3 1442.5L2230.3 1445.0L2231.2 1447.5L2232.1 1450.0L2233.0 1452.5L2234.0 1455.0L2234.8 1457.2L2235.7 1459.4L2236.5 1461.7L2237.4 1463.9L2238.3 1466.1L2239.2 1468.3L2240.1 1470.4L2241.0 1472.5L2242.1 1474.7L2243.2 1476.8L2244.4 1478.8L2245.6 1480.9L2246.8 1482.9L2247.9 1485.1L2249.0 1487.5L2249.9 1489.8L2250.8 1492.1L2251.7 1494.6L2252.5 1497.2L2253.3 1499.8L2254.2 1502.4L2255.1 1505.0L2256.0 1507.5L2256.9 1509.7L2257.7 1512.0L2258.6 1514.4L2259.5 1516.7L2260.5 1519.0L2261.4 1521.2L2262.3 1523.4L2263.1 1525.5L2264.0 1527.5L2265.0 1530.0L2266.0 1532.4L2267.0 1534.7L2267.9 1536.9L2268.9 1538.9L2269.9 1540.8L2271.0 1542.5L2272.7 1544.5L2274.5 1546.0L2276.4 1547.4L2278.3 1548.6L2280.0 1550.0L2282.0 1551.8L2283.8 1553.4L2285.6 1555.3L2287.5 1557.5L2288.9 1559.4L2290.2 1561.5L2291.7 1563.8L2293.1 1566.0L2294.5 1568.1L2296.0 1570.0L2297.8 1571.9L2299.5 1573.6L2301.3 1575.0L2303.1 1576.3L2305.0 1577.5L2307.5 1578.9L2310.1 1580.1L2312.7 1580.9L2315.0 1581.0L2317.0 1580.5L2318.8 1579.5L2320.5 1577.7L2322.5 1575.0L2323.5 1573.4L2324.6 1571.6L2325.7 1569.6L2326.9 1567.5L2328.1 1565.2L2329.3 1562.7L2330.4 1560.2L2331.5 1557.6L2332.5 1555.0L2333.3 1552.8L2334.0 1550.5L2334.7 1548.0L2335.3 1545.6L2335.9 1543.0L2336.6 1540.4L2337.2 1537.8L2337.8 1535.2L2338.5 1532.6L2339.2 1530.0L2340.0 1527.5L2340.8 1525.2L2341.6 1522.7L2342.4 1520.2L2343.3 1517.7L2344.2 1515.1L2345.2 1512.6L2346.1 1510.2L2346.9 1507.8L2347.8 1505.6L2348.6 1503.5L2349.3 1501.7L2350.0 1500.0L2351.6 1496.2L2352.9 1493.7L2354.0 1491.9L2355.0 1490.5L2356.8 1488.8L2358.5 1488.5L2360.0 1488.8L2362.0 1491.0L2363.0 1492.5L2364.3 1494.4L2365.6 1496.7L2367.0 1499.1L2368.5 1501.5L2370.0 1504.0L2371.2 1505.9L2372.4 1507.9L2373.7 1509.9L2375.1 1512.0L2376.4 1514.1L2377.7 1516.1L2378.9 1518.1L2380.0 1520.0L2381.3 1522.3L2382.5 1524.5L2383.7 1526.6L2384.7 1528.6L2385.8 1530.8L2387.0 1533.0L2388.1 1535.1L2389.2 1537.2L2390.4 1539.4L2391.5 1541.7L2392.6 1543.9L2393.6 1546.0L2394.5 1548.0L2395.5 1550.6L2396.2 1553.1L2396.9 1555.4L2397.4 1557.7L2398.0 1560.0L2398.6 1562.2L2399.1 1564.4L2399.6 1566.6L2400.1 1568.8L2400.5 1571.0L2400.8 1573.4L2400.9 1575.9L2401.1 1578.4L2401.3 1580.8L2401.8 1583.0L2402.8 1585.5L2404.1 1587.7L2405.6 1589.8L2407.0 1592.0L2408.4 1594.2L2410.0 1596.4L2411.4 1598.7L2412.5 1601.0L2413.2 1603.7L2413.6 1606.6L2413.8 1609.2L2414.0 1611.0"/></g>
<g fill="none" stroke="#000" stroke-width="5.8" stroke-linejoin="round" stroke-linecap="round"><path transform="translate(-0.85 0)" d="M191.7 1080.0L193.1 1080.5L194.9 1079.6L196.8 1079.7L199.0 1080.6L201.5 1080.5L204.0 1080.5L206.8 1080.3L209.6 1080.6L212.5 1080.7L215.5 1080.8L218.5 1080.4L221.4 1080.8L224.4 1080.8L227.2 1081.2L230.0 1081.5L232.5 1081.5L235.1 1081.1L237.7 1080.9L240.5 1080.7L243.3 1080.4L246.2 1080.3L249.1 1080.7L251.9 1080.5L254.8 1080.5L257.5 1081.0L260.2 1080.6L262.7 1080.6L265.1 1080.3L267.4 1080.2L269.5 1080.5L271.4 1080.5L273.0 1081.0L277.7 1082.9L279.7 1084.6L280.6 1086.0L281.7 1087.7L282.9 1086.6L283.6 1084.4L286.7 1083.1L288.3 1082.9L290.2 1083.0L292.3 1082.8L294.6 1083.6L297.1 1083.9L299.7 1083.4L302.4 1084.3L305.1 1084.6L307.8 1084.6L310.4 1084.9L313.0 1085.0L315.6 1085.4L318.3 1084.9L321.2 1085.1L324.1 1084.5L327.0 1084.8L329.9 1084.6L332.7 1084.0L335.3 1084.1L337.7 1084.4L339.8 1084.3L341.7 1084.3L345.2 1085.3L347.1 1087.2L348.4 1089.7L350.0 1091.4L351.8 1094.1L353.6 1095.8L355.5 1098.7L357.3 1099.8L359.0 1101.2L360.6 1100.0L362.1 1097.7L363.5 1095.1L365.0 1093.0L366.7 1091.8L368.5 1091.9L370.4 1093.2L372.4 1095.4L374.5 1097.3L376.7 1097.4L378.8 1096.2L381.0 1095.6L383.4 1093.7L385.7 1092.1L387.9 1089.9L390.0 1089.5L392.8 1088.9L395.3 1090.4L397.7 1091.0L400.0 1091.4L402.1 1091.2L404.0 1088.8L406.0 1088.0L408.3 1088.7L409.6 1089.2L411.0 1091.0L412.5 1094.0L414.0 1096.1L415.6 1098.9L417.1 1100.4L418.6 1102.3L420.0 1103.0L422.2 1102.9L424.3 1100.1L426.3 1098.1L428.2 1094.7L430.0 1094.2L431.6 1094.5L432.6 1097.3L434.1 1100.6L436.7 1101.4L438.4 1101.3L440.5 1101.5L442.8 1100.5L445.3 1099.4L447.9 1099.5L450.5 1097.8L453.2 1097.0L455.8 1096.8L458.3 1096.8L460.6 1097.0L462.9 1096.6L465.1 1097.1L467.3 1097.3L469.6 1098.2L471.9 1099.2L474.4 1099.7L477.1 1100.5L480.0 1101.0L482.0 1101.4L484.1 1101.7L486.4 1101.9L488.7 1102.0L491.0 1102.9L493.5 1103.0L495.9 1103.3L498.4 1104.1L500.9 1105.0L503.4 1104.7L505.9 1105.6L508.4 1105.8L510.9 1106.3L513.3 1106.3L515.8 1107.5L518.3 1107.2L520.7 1107.9L523.0 1108.1L525.4 1108.0L527.8 1108.9L530.2 1108.8L532.6 1109.0L535.2 1109.3L537.9 1109.7L540.6 1110.0L543.6 1110.8L546.7 1111.0L548.8 1111.7L551.0 1111.8L553.3 1112.1L555.6 1111.5L558.0 1111.9L560.5 1111.9L563.0 1112.5L565.5 1112.7L568.1 1113.1L570.7 1113.2L573.3 1112.9L575.9 1113.3L578.5 1113.6L581.2 1113.2L583.8 1113.5L586.4 1114.0L589.0 1114.0L591.6 1114.8L594.2 1114.5L596.7 1114.6L599.2 1114.9L601.7 1115.2L604.2 1115.4L606.7 1116.0L609.2 1116.2L611.7 1116.3L614.2 1116.9L616.7 1116.7L619.2 1117.7L621.7 1118.0L624.2 1118.0L626.7 1118.0L629.2 1118.3L631.7 1118.7L634.2 1118.4L636.7 1119.0L639.2 1119.4L641.7 1119.2L644.2 1119.4L646.7 1120.3L649.2 1120.1L651.8 1120.4L654.4 1121.0L657.0 1120.9L659.6 1120.8L662.2 1121.6L664.9 1121.2L667.5 1121.0L670.1 1121.8L672.7 1121.4L675.3 1121.8L677.9 1122.5L680.4 1122.5L682.9 1121.9L685.4 1122.5L687.8 1122.6L690.1 1122.9L692.4 1122.7L694.6 1123.2L696.7 1122.9L699.8 1123.3L702.6 1123.6L705.2 1124.4L707.6 1123.8L710.0 1124.7L712.2 1124.3L714.5 1124.9L716.7 1124.9L719.1 1125.2L721.5 1125.6L724.1 1125.4L726.9 1125.2L730.0 1125.3L732.1 1125.3L734.4 1126.1L736.8 1125.9L739.2 1126.3L741.7 1126.0L744.3 1125.3L746.9 1125.9L749.6 1126.0L752.3 1125.9L755.0 1125.7L757.7 1125.5L760.4 1125.5L763.1 1125.8L765.7 1125.3L768.3 1125.5L770.8 1125.4L773.2 1125.8L775.6 1125.7L777.9 1125.8L780.0 1125.6L783.2 1125.1L786.3 1124.9L789.3 1125.2L792.2 1124.9L795.1 1125.0L797.8 1125.2L800.4 1125.4L802.9 1125.0L805.3 1125.2L807.5 1124.5L809.6 1124.7L811.5 1125.4L813.3 1124.6L817.4 1125.5L819.8 1126.1L821.3 1126.9L823.3 1128.1L825.5 1127.8L827.4 1126.7L829.8 1125.3L833.3 1124.8L835.0 1124.6L836.5 1125.0L838.0 1125.0L839.6 1124.7L841.6 1124.8L844.2 1124.4L847.5 1124.9L851.7 1125.2L857.0 1125.0L858.7 1124.3L860.4 1124.6L862.3 1124.8L864.3 1124.3L866.3 1124.9L868.5 1124.4L870.7 1124.6L873.0 1124.3L875.3 1124.8L877.8 1124.5L880.2 1124.3L882.8 1123.8L885.4 1124.0L888.0 1123.6L890.7 1124.1L893.4 1124.3L896.1 1123.5L898.9 1123.8L901.7 1123.7L904.5 1123.6L907.3 1123.8L910.1 1124.0L912.9 1123.7L915.7 1123.4L918.5 1123.8L921.3 1123.1L924.1 1123.4L926.8 1123.3L929.5 1123.3L932.2 1123.3L934.8 1122.6L937.4 1122.9L940.0 1122.6L942.5 1122.8L944.9 1123.0L947.4 1122.6L949.8 1121.9L952.3 1122.2L954.7 1122.4L957.2 1122.5L959.7 1122.1L962.1 1122.2L964.6 1121.3L967.0 1122.1L969.5 1121.8L972.0 1121.6L974.4 1121.8L976.9 1121.7L979.4 1120.8L981.8 1121.4L984.3 1121.2L986.8 1120.6L989.2 1121.0L991.7 1120.7L994.2 1120.2L996.6 1120.7L999.1 1120.0L1001.6 1120.3L1004.0 1120.1L1006.5 1119.8L1008.9 1120.0L1011.4 1119.8L1013.9 1119.4L1016.3 1120.1L1018.8 1119.1L1021.2 1118.9L1023.7 1119.3L1026.2 1119.5L1028.8 1119.3L1031.3 1119.3L1033.8 1118.9L1036.3 1119.0L1038.9 1118.5L1041.4 1118.4L1043.9 1118.5L1046.5 1117.9L1049.0 1117.9L1051.5 1118.4L1054.0 1117.8L1056.6 1118.2L1059.1 1118.2L1061.6 1117.7L1064.1 1117.9L1066.7 1117.9L1069.2 1117.9L1071.7 1117.0L1074.2 1117.0L1076.7 1117.1L1079.3 1117.1L1081.8 1116.8L1084.3 1116.4L1086.8 1116.9L1089.4 1117.2L1091.9 1116.5L1094.4 1116.5L1096.9 1116.3L1099.4 1116.2L1102.0 1116.6L1104.5 1115.9L1107.0 1116.1L1109.5 1115.9L1112.1 1115.8L1114.6 1116.1L1117.2 1115.2L1119.7 1115.8L1122.3 1115.2L1124.9 1115.4L1127.5 1115.5L1130.1 1115.2L1132.7 1114.8L1135.3 1115.2L1137.9 1114.3L1140.5 1114.8L1143.1 1114.4L1145.6 1114.4L1148.2 1114.7L1150.8 1114.5L1153.4 1114.2L1155.9 1113.8L1158.5 1113.6L1161.0 1113.7L1163.5 1113.4L1166.0 1113.4L1168.5 1113.9L1171.0 1113.0L1173.5 1113.6L1175.9 1113.1L1178.3 1113.0L1180.7 1112.8L1183.1 1112.5L1185.4 1112.8L1187.7 1112.4L1190.0 1112.6L1192.8 1112.4L1195.5 1112.9L1198.2 1112.9L1200.9 1112.3L1203.6 1112.4L1206.3 1112.6L1208.9 1111.9L1211.6 1111.6L1214.1 1111.7L1216.7 1111.6L1219.3 1112.0L1221.8 1111.6L1224.3 1111.5L1226.8 1111.9L1229.3 1111.3L1231.7 1111.8L1234.1 1111.6L1236.5 1111.3L1238.9 1111.7L1241.2 1111.1L1243.6 1111.6L1245.9 1111.6L1248.1 1111.2L1250.4 1111.3L1252.6 1111.5L1254.8 1111.3L1257.0 1111.3L1259.9 1111.3L1262.8 1111.4L1265.7 1111.2L1268.5 1111.4L1271.3 1110.7L1274.1 1111.0L1276.8 1111.0L1279.5 1110.7L1282.2 1110.8L1284.8 1110.6L1287.3 1111.4L1289.8 1110.8L1292.2 1110.9L1294.5 1111.3L1296.8 1110.6L1299.0 1111.3L1301.1 1110.5L1303.2 1110.3L1305.1 1110.6L1307.0 1110.6L1310.7 1110.9L1313.8 1110.7L1316.5 1110.4L1318.9 1109.8L1321.0 1109.6L1323.0 1109.0L1325.1 1109.3L1327.4 1108.5L1330.0 1108.1L1332.3 1108.2L1334.5 1107.4L1336.7 1107.2L1339.0 1107.5L1341.3 1106.3L1343.6 1106.0L1346.1 1105.8L1348.6 1105.5L1351.2 1105.4L1354.0 1105.0L1357.0 1104.8L1359.2 1104.6L1361.5 1104.5L1363.9 1104.9L1366.4 1104.5L1369.0 1104.5L1371.6 1104.9L1374.3 1104.2L1377.0 1104.3L1379.7 1105.0L1382.4 1104.6L1385.0 1104.9L1387.6 1104.2L1390.1 1104.6L1392.5 1104.8L1394.8 1104.2L1397.0 1104.6L1399.9 1104.2L1402.6 1103.8L1405.1 1104.1L1407.4 1103.2L1409.7 1103.0L1411.9 1102.8L1414.1 1102.2L1416.3 1102.4L1418.6 1101.8L1421.1 1101.4L1423.7 1101.0L1426.1 1101.2L1428.6 1100.8L1431.1 1100.3L1433.8 1099.5L1436.5 1099.1L1439.2 1098.8L1441.9 1097.9L1444.6 1097.6L1447.3 1098.1L1449.9 1096.9L1452.4 1097.5L1454.8 1097.0L1457.0 1097.1L1460.0 1096.2L1462.9 1096.5L1465.7 1097.1L1468.3 1096.5L1470.8 1096.9L1473.2 1097.4L1475.5 1097.5L1477.8 1097.7L1480.0 1099.1L1482.8 1096.6L1485.5 1101.3L1488.1 1100.2L1490.6 1097.7L1492.9 1102.0L1495.0 1098.9L1497.0 1099.9L1499.8 1099.1L1502.0 1095.1L1503.9 1094.9L1506.0 1091.6L1508.1 1092.4L1510.1 1096.8L1512.3 1097.4L1515.0 1096.1L1517.2 1096.3L1519.8 1096.1L1522.6 1091.3L1525.3 1091.7L1527.9 1088.9L1530.0 1088.2L1532.8 1088.4L1534.7 1090.1L1537.5 1089.9L1539.7 1090.2L1542.2 1090.1L1545.0 1090.3L1547.8 1090.4L1550.3 1089.8L1552.5 1088.5L1555.3 1088.2L1557.2 1091.6L1560.0 1088.9L1562.2 1088.7L1564.8 1092.0L1567.7 1090.9L1570.5 1088.5L1573.0 1088.8L1575.0 1087.7L1576.9 1086.4L1577.9 1083.8L1578.7 1081.3L1580.0 1082.4L1581.6 1083.6L1583.5 1084.8L1585.5 1087.2L1587.4 1088.7L1589.0 1092.3L1590.8 1092.4L1592.2 1086.0L1594.0 1085.5L1595.9 1083.5L1598.1 1081.0L1600.4 1076.2L1602.5 1077.7L1604.4 1076.8L1606.2 1078.6L1608.0 1082.3L1610.0 1083.2L1611.8 1082.1L1613.7 1080.8L1615.7 1078.4L1617.8 1075.4L1620.0 1072.3L1622.4 1075.7L1625.1 1076.5L1627.8 1077.5L1630.3 1077.6L1632.5 1076.5L1633.9 1079.1L1635.2 1081.2L1636.2 1086.5L1637.2 1088.6L1638.1 1088.8L1639.0 1093.2L1640.0 1092.1L1640.9 1088.9L1641.8 1083.3L1642.8 1079.4L1644.0 1077.3L1645.9 1080.6L1648.0 1081.8L1650.3 1082.1L1652.5 1086.9L1654.6 1086.8L1656.7 1087.4L1658.8 1088.4L1661.0 1089.8L1662.7 1087.4L1664.3 1086.5L1666.0 1081.5L1667.9 1081.9L1670.0 1077.6L1671.8 1079.3L1673.8 1074.6L1676.0 1073.8L1678.2 1073.4L1680.4 1071.3L1682.3 1070.4L1684.0 1070.7L1685.6 1064.9L1686.9 1064.8L1688.0 1061.5L1689.0 1059.3L1689.9 1055.7L1691.0 1054.8L1692.4 1055.1L1693.9 1058.4L1695.3 1060.5L1696.5 1062.7L1697.5 1064.9L1697.9 1062.4L1697.9 1061.5L1697.8 1059.0L1697.8 1054.6L1698.1 1050.9L1699.0 1050.5L1700.6 1049.8L1702.7 1045.1L1705.1 1045.5L1707.7 1044.3L1710.2 1044.1L1712.5 1041.9L1715.0 1038.5L1717.4 1036.3L1719.7 1037.9L1721.9 1034.3L1724.0 1032.7L1725.9 1037.6L1727.6 1036.0L1729.2 1038.6L1730.8 1040.5L1732.5 1041.3L1735.5 1043.4L1738.4 1040.5L1741.0 1040.7L1742.7 1042.2L1744.0 1046.7L1746.0 1045.2L1747.9 1049.4L1750.0 1048.9L1752.4 1050.6L1755.0 1053.9L1757.5 1053.1L1759.7 1051.1L1761.9 1052.6L1764.2 1052.7L1766.6 1049.6L1768.8 1047.0L1771.0 1045.5L1772.6 1044.1L1774.1 1041.0L1775.6 1039.3L1777.1 1038.3L1778.6 1036.2L1780.0 1033.1L1781.3 1032.0L1782.5 1030.6L1784.3 1027.9L1785.8 1026.1L1787.2 1024.0L1788.6 1021.7L1790.0 1019.5L1791.2 1017.2L1792.4 1015.9L1793.6 1012.6L1794.8 1011.1L1796.1 1008.8L1797.5 1007.4L1799.8 1007.6L1802.3 1007.3L1804.9 1007.6L1807.5 1005.8L1808.5 1004.1L1809.5 1002.2L1810.4 1000.4L1811.4 998.4L1812.3 994.6L1813.3 993.2L1814.3 990.1L1815.3 986.5L1816.4 985.0L1817.5 982.3L1818.8 980.3L1820.3 977.5L1821.8 976.1L1823.3 974.2L1824.8 972.7L1826.3 970.6L1827.7 968.9L1828.9 967.2L1830.0 964.6L1831.2 961.8L1831.9 960.3L1832.3 957.7L1832.9 955.4L1833.7 953.1L1835.0 950.1L1835.8 948.4L1836.8 946.4L1837.9 944.7L1839.0 941.1L1840.3 939.4L1841.5 936.2L1842.8 934.6L1844.1 931.8L1845.4 928.8L1846.7 926.6L1847.9 924.7L1849.0 922.1L1850.0 920.7L1851.1 917.5L1852.1 915.2L1853.1 912.8L1854.0 910.5L1854.9 908.3L1855.8 906.1L1856.6 903.9L1857.5 901.7L1858.3 899.5L1859.1 897.3L1860.0 895.0L1860.9 892.7L1861.7 890.3L1862.6 887.9L1863.5 885.5L1864.3 883.1L1865.2 880.7L1866.0 878.4L1866.8 876.1L1867.6 873.9L1868.3 871.9L1869.0 870.0L1870.2 866.8L1871.3 863.9L1872.2 861.2L1873.2 858.8L1874.1 856.7L1875.0 855.0L1876.8 852.5L1878.4 851.3L1880.0 851.0L1881.6 851.2L1883.1 852.4L1884.5 856.0L1884.8 857.5L1885.1 859.2L1885.4 861.0L1885.7 863.1L1885.9 865.3L1886.2 867.7L1886.4 870.2L1886.7 873.0L1886.9 876.0L1887.2 879.1L1887.5 882.5L1887.7 884.5L1887.8 886.5L1888.0 888.7L1888.2 891.0L1888.3 893.3L1888.5 895.8L1888.7 898.3L1888.8 900.8L1889.0 903.4L1889.2 906.0L1889.4 908.7L1889.5 911.4L1889.7 914.1L1889.9 916.8L1890.1 919.4L1890.3 922.1L1890.4 924.8L1890.6 927.4L1890.8 930.0L1891.0 932.5L1891.2 935.0L1891.4 937.5L1891.6 940.0L1891.8 942.5L1891.9 945.0L1892.1 947.5L1892.3 950.0L1892.5 952.5L1892.7 955.0L1892.9 957.5L1893.1 960.0L1893.3 962.5L1893.5 965.0L1893.7 967.5L1893.9 970.0L1894.1 972.5L1894.3 975.0L1894.6 977.5L1894.8 980.0L1895.0 982.5L1895.2 985.0L1895.5 987.6L1895.7 990.1L1895.9 992.7L1896.2 995.3L1896.4 997.9L1896.6 1000.5L1896.9 1003.1L1897.1 1005.7L1897.4 1008.3L1897.6 1010.9L1897.9 1013.4L1898.1 1015.9L1898.4 1018.4L1898.7 1020.9L1898.9 1023.3L1899.2 1025.7L1899.5 1028.0L1899.7 1030.3L1900.0 1032.5L1900.4 1035.4L1900.7 1038.2L1901.1 1040.9L1901.5 1043.6L1901.8 1046.2L1902.2 1048.8L1902.6 1051.3L1902.9 1053.7L1903.3 1056.1L1903.7 1058.5L1904.2 1060.9L1904.6 1063.2L1905.0 1065.5L1905.5 1067.7L1906.0 1070.0L1906.6 1072.6L1907.2 1075.1L1907.9 1077.6L1908.5 1080.1L1909.2 1082.5L1909.9 1084.9L1910.6 1087.3L1911.3 1089.5L1912.1 1091.8L1912.8 1093.9L1913.5 1096.0L1914.3 1098.0L1915.0 1100.0L1916.1 1102.6L1917.1 1105.1L1918.2 1107.3L1919.2 1109.4L1920.3 1111.5L1921.4 1113.5L1922.6 1115.5L1923.8 1117.7L1925.0 1120.0L1926.2 1122.2L1927.4 1124.5L1928.7 1126.9L1930.0 1129.4L1931.3 1131.8L1932.7 1134.2L1934.0 1136.6L1935.2 1138.9L1936.4 1141.0L1937.5 1143.0L1938.9 1145.6L1940.2 1147.9L1941.3 1150.1L1942.5 1152.1L1943.6 1154.1L1944.7 1156.0L1946.0 1158.0L1947.4 1159.9L1948.8 1161.7L1950.2 1163.4L1951.7 1165.1L1953.2 1166.9L1954.6 1168.8L1956.0 1171.0L1957.2 1173.1L1958.4 1175.2L1959.5 1177.5L1960.7 1179.9L1961.8 1182.4L1962.9 1184.9L1964.0 1187.4L1965.0 1190.0L1965.9 1192.3L1966.8 1194.6L1967.6 1196.9L1968.4 1199.2L1969.2 1201.6L1970.1 1204.1L1970.9 1206.8L1971.7 1209.5L1972.5 1212.5L1973.1 1214.7L1973.7 1217.0L1974.2 1219.4L1974.8 1221.9L1975.4 1224.5L1976.0 1227.1L1976.5 1229.8L1977.1 1232.4L1977.7 1235.0L1978.3 1237.6L1978.8 1240.2L1979.4 1242.6L1980.0 1245.0L1980.7 1247.7L1981.4 1250.4L1982.0 1253.1L1982.7 1255.7L1983.4 1258.3L1984.1 1260.8L1984.8 1263.3L1985.5 1265.7L1986.1 1268.0L1986.8 1270.3L1987.5 1272.5L1988.3 1275.1L1989.1 1277.5L1989.9 1279.9L1990.8 1282.2L1991.6 1284.4L1992.4 1286.5L1993.2 1288.5L1994.1 1290.5L1995.0 1292.5L1996.2 1295.0L1997.5 1297.4L1998.8 1299.7L2000.1 1301.9L2001.4 1304.0L2002.7 1305.8L2004.0 1307.5L2006.2 1310.0L2008.3 1311.9L2010.5 1313.3L2012.5 1314.0L2015.1 1313.9L2017.5 1312.5L2020.0 1310.0L2021.1 1308.5L2022.1 1306.7L2023.2 1304.7L2024.3 1302.5L2025.4 1300.2L2026.4 1297.6L2027.5 1295.0L2028.3 1292.8L2029.2 1290.6L2030.0 1288.1L2030.8 1285.7L2031.7 1283.1L2032.5 1280.5L2033.3 1277.8L2034.2 1275.2L2035.0 1272.5L2035.8 1270.1L2036.5 1267.6L2037.3 1265.0L2038.0 1262.4L2038.8 1259.8L2039.6 1257.3L2040.3 1254.7L2041.1 1252.2L2041.8 1249.8L2042.5 1247.5L2043.4 1244.7L2044.2 1241.9L2045.1 1239.1L2045.9 1236.5L2046.7 1233.9L2047.5 1231.6L2048.3 1229.4L2049.0 1227.5L2050.3 1224.4L2051.5 1222.2L2052.7 1220.5L2054.0 1219.0L2055.8 1217.3L2057.7 1216.3L2060.0 1216.0L2062.1 1216.5L2064.3 1217.6L2066.7 1218.8L2069.0 1220.0L2071.2 1221.2L2073.3 1222.6L2075.5 1223.6L2077.5 1224.0L2079.4 1223.6L2081.3 1222.6L2083.1 1221.1L2085.0 1219.0L2086.2 1217.2L2087.5 1215.1L2088.8 1212.7L2090.0 1210.1L2091.2 1207.6L2092.5 1205.0L2093.6 1202.7L2094.6 1200.3L2095.7 1197.8L2096.8 1195.3L2097.9 1192.9L2098.9 1190.8L2100.0 1189.0L2101.9 1186.7L2103.8 1185.2L2105.6 1183.9L2107.5 1182.5L2109.4 1181.2L2111.3 1180.0L2113.2 1178.5L2115.0 1176.0L2115.8 1174.3L2116.6 1172.4L2117.3 1170.2L2118.1 1167.9L2118.8 1165.4L2119.5 1162.9L2120.2 1160.2L2121.0 1157.5L2121.6 1155.3L2122.3 1152.9L2122.9 1150.5L2123.5 1148.0L2124.2 1145.4L2124.8 1142.8L2125.5 1140.2L2126.1 1137.6L2126.8 1135.0L2127.5 1132.5L2128.2 1130.0L2129.0 1127.3L2129.7 1124.7L2130.5 1122.0L2131.3 1119.4L2132.1 1116.8L2132.8 1114.3L2133.6 1111.9L2134.3 1109.6L2135.0 1107.5L2136.1 1104.3L2137.1 1101.3L2138.1 1098.7L2139.0 1096.3L2140.0 1094.2L2141.0 1092.5L2143.2 1090.1L2145.4 1089.0L2147.5 1089.0L2149.2 1089.9L2150.8 1091.8L2152.5 1095.0L2153.4 1096.9L2154.3 1099.3L2155.2 1102.0L2156.2 1104.8L2157.1 1107.6L2158.1 1110.2L2159.0 1112.5L2160.2 1115.3L2161.4 1117.9L2162.6 1120.3L2163.8 1122.3L2165.0 1124.0L2167.0 1125.9L2169.1 1126.9L2171.0 1127.0L2172.7 1126.5L2174.4 1125.2L2176.0 1122.5L2176.7 1120.8L2177.4 1118.8L2178.1 1116.6L2178.9 1114.1L2179.6 1111.3L2180.3 1108.3L2181.0 1105.0L2181.4 1102.9L2181.8 1100.7L2182.2 1098.4L2182.7 1095.9L2183.1 1093.4L2183.5 1090.8L2183.9 1088.1L2184.3 1085.5L2184.8 1082.8L2185.2 1080.1L2185.6 1077.5L2186.0 1075.0L2186.4 1072.5L2186.8 1069.9L2187.2 1067.3L2187.7 1064.7L2188.1 1062.1L2188.5 1059.5L2188.9 1057.0L2189.3 1054.4L2189.8 1052.0L2190.2 1049.6L2190.6 1047.2L2191.0 1045.0L2191.6 1042.1L2192.1 1039.3L2192.7 1036.6L2193.2 1034.0L2193.8 1031.5L2194.3 1029.1L2194.9 1026.8L2195.4 1024.6L2196.0 1022.5L2196.8 1019.6L2197.6 1017.0L2198.4 1014.6L2199.2 1012.5L2200.1 1010.6L2201.0 1009.0L2203.0 1006.7L2205.2 1005.5L2207.5 1005.0L2209.9 1005.5L2212.4 1006.7L2215.0 1008.0L2217.2 1008.5L2219.4 1008.8L2221.8 1009.5L2224.0 1011.0L2225.2 1012.4L2226.4 1014.2L2227.6 1016.3L2228.8 1018.5L2230.0 1020.8L2231.2 1023.0L2232.5 1025.0L2234.1 1027.2L2235.7 1029.3L2237.3 1031.3L2239.0 1033.4L2240.7 1035.4L2242.5 1037.5L2244.1 1039.2L2245.8 1040.9L2247.6 1042.6L2249.4 1044.3L2251.1 1046.1L2252.6 1048.0L2254.0 1050.0L2255.1 1052.2L2256.1 1054.3L2257.0 1056.6L2257.7 1059.0L2258.4 1061.6L2259.2 1064.4L2260.0 1067.5L2260.5 1069.6L2261.1 1071.9L2261.6 1074.3L2262.2 1076.8L2262.7 1079.3L2263.2 1081.9L2263.8 1084.6L2264.3 1087.2L2264.9 1089.9L2265.4 1092.5L2266.0 1095.0L2266.6 1097.5L2267.1 1100.1L2267.7 1102.8L2268.3 1105.4L2268.9 1108.1L2269.4 1110.7L2270.0 1113.2L2270.6 1115.7L2271.3 1118.1L2271.9 1120.4L2272.5 1122.5L2273.4 1125.2L2274.3 1127.7L2275.2 1130.0L2276.2 1132.2L2277.1 1134.2L2278.1 1136.2L2279.1 1138.1L2280.0 1140.0L2281.3 1142.3L2282.5 1144.3L2283.8 1146.1L2285.0 1148.0L2286.2 1150.0L2287.5 1152.5L2288.3 1154.4L2289.2 1156.4L2290.0 1158.6L2290.8 1160.9L2291.7 1163.2L2292.5 1165.6L2293.3 1167.9L2294.2 1170.2L2295.0 1172.5L2295.8 1174.7L2296.7 1177.0L2297.5 1179.4L2298.3 1181.7L2299.2 1184.0L2300.0 1186.2L2300.8 1188.4L2301.7 1190.5L2302.5 1192.5L2303.6 1195.0L2304.7 1197.4L2305.8 1199.7L2306.9 1201.9L2308.0 1204.0L2309.0 1205.8L2310.0 1207.5L2311.6 1210.0L2313.1 1212.1L2314.5 1213.5L2316.0 1214.0L2317.6 1213.8L2319.2 1212.9L2320.8 1210.9L2322.5 1207.5L2323.1 1205.8L2323.8 1203.8L2324.5 1201.6L2325.2 1199.3L2325.9 1196.7L2326.6 1194.0L2327.3 1191.3L2328.0 1188.4L2328.7 1185.6L2329.4 1182.8L2330.0 1180.0L2330.5 1177.7L2331.0 1175.3L2331.5 1172.8L2332.0 1170.3L2332.5 1167.8L2332.9 1165.2L2333.4 1162.6L2333.8 1160.0L2334.3 1157.5L2334.7 1154.9L2335.1 1152.4L2335.6 1149.9L2336.0 1147.5L2336.5 1144.8L2336.9 1142.1L2337.3 1139.4L2337.8 1136.6L2338.2 1133.8L2338.6 1131.1L2339.0 1128.5L2339.4 1125.9L2339.8 1123.5L2340.2 1121.3L2340.6 1119.3L2341.0 1117.5L2342.1 1113.3L2343.1 1110.5L2344.0 1108.7L2345.0 1107.5L2347.0 1106.4L2349.0 1110.0L2349.3 1111.5L2349.6 1113.1L2350.0 1115.0L2350.2 1117.1L2350.5 1119.4L2350.8 1121.9L2351.1 1124.6L2351.5 1127.5L2351.8 1130.6L2352.1 1134.0L2352.5 1137.5L2352.7 1139.5L2352.9 1141.5L2353.1 1143.6L2353.3 1145.8L2353.6 1148.1L2353.8 1150.5L2354.0 1152.9L2354.2 1155.3L2354.5 1157.9L2354.7 1160.4L2354.9 1163.0L2355.2 1165.7L2355.4 1168.3L2355.7 1171.0L2355.9 1173.7L2356.2 1176.4L2356.4 1179.2L2356.7 1181.9L2357.0 1184.6L2357.2 1187.3L2357.5 1190.0L2357.7 1192.4L2358.0 1194.8L2358.2 1197.2L2358.5 1199.7L2358.8 1202.3L2359.0 1204.8L2359.3 1207.4L2359.6 1210.0L2359.8 1212.6L2360.1 1215.2L2360.4 1217.8L2360.7 1220.5L2361.0 1223.1L2361.3 1225.7L2361.5 1228.3L2361.8 1230.8L2362.1 1233.4L2362.4 1235.9L2362.7 1238.4L2362.9 1240.8L2363.2 1243.2L2363.5 1245.5L2363.7 1247.8L2364.0 1250.0L2364.3 1252.9L2364.7 1255.8L2365.0 1258.6L2365.4 1261.3L2365.7 1264.1L2366.0 1266.8L2366.4 1269.4L2366.7 1272.0L2367.0 1274.5L2367.4 1277.0L2367.7 1279.5L2368.0 1281.9L2368.3 1284.2L2368.7 1286.5L2369.0 1288.7L2369.3 1290.9L2369.7 1293.0L2370.0 1295.0L2370.5 1298.2L2371.1 1301.3L2371.6 1304.3L2372.2 1307.1L2372.7 1309.8L2373.2 1312.3L2373.8 1314.6L2374.3 1316.8L2374.9 1318.9L2375.4 1320.8L2376.0 1322.5L2377.6 1326.3L2379.2 1328.8L2380.8 1330.3L2382.5 1331.0L2384.3 1330.5L2386.2 1328.9L2388.1 1326.8L2390.0 1325.0L2391.9 1323.4L2393.8 1321.7L2395.6 1320.3L2397.5 1319.5L2400.1 1319.9L2402.7 1321.3L2405.0 1322.5L2408.0 1323.4L2410.0 1324.0"/><path transform="translate(0.85 0)" d="M191.7 1080.0L193.1 1080.5L194.9 1079.6L196.8 1079.7L199.0 1080.6L201.5 1080.5L204.0 1080.5L206.8 1080.3L209.6 1080.6L212.5 1080.7L215.5 1080.8L218.5 1080.4L221.4 1080.8L224.4 1080.8L227.2 1081.2L230.0 1081.5L232.5 1081.5L235.1 1081.1L237.7 1080.9L240.5 1080.7L243.3 1080.4L246.2 1080.3L249.1 1080.7L251.9 1080.5L254.8 1080.5L257.5 1081.0L260.2 1080.6L262.7 1080.6L265.1 1080.3L267.4 1080.2L269.5 1080.5L271.4 1080.5L273.0 1081.0L277.7 1082.9L279.7 1084.6L280.6 1086.0L281.7 1087.7L282.9 1086.6L283.6 1084.4L286.7 1083.1L288.3 1082.9L290.2 1083.0L292.3 1082.8L294.6 1083.6L297.1 1083.9L299.7 1083.4L302.4 1084.3L305.1 1084.6L307.8 1084.6L310.4 1084.9L313.0 1085.0L315.6 1085.4L318.3 1084.9L321.2 1085.1L324.1 1084.5L327.0 1084.8L329.9 1084.6L332.7 1084.0L335.3 1084.1L337.7 1084.4L339.8 1084.3L341.7 1084.3L345.2 1085.3L347.1 1087.2L348.4 1089.7L350.0 1091.4L351.8 1094.1L353.6 1095.8L355.5 1098.7L357.3 1099.8L359.0 1101.2L360.6 1100.0L362.1 1097.7L363.5 1095.1L365.0 1093.0L366.7 1091.8L368.5 1091.9L370.4 1093.2L372.4 1095.4L374.5 1097.3L376.7 1097.4L378.8 1096.2L381.0 1095.6L383.4 1093.7L385.7 1092.1L387.9 1089.9L390.0 1089.5L392.8 1088.9L395.3 1090.4L397.7 1091.0L400.0 1091.4L402.1 1091.2L404.0 1088.8L406.0 1088.0L408.3 1088.7L409.6 1089.2L411.0 1091.0L412.5 1094.0L414.0 1096.1L415.6 1098.9L417.1 1100.4L418.6 1102.3L420.0 1103.0L422.2 1102.9L424.3 1100.1L426.3 1098.1L428.2 1094.7L430.0 1094.2L431.6 1094.5L432.6 1097.3L434.1 1100.6L436.7 1101.4L438.4 1101.3L440.5 1101.5L442.8 1100.5L445.3 1099.4L447.9 1099.5L450.5 1097.8L453.2 1097.0L455.8 1096.8L458.3 1096.8L460.6 1097.0L462.9 1096.6L465.1 1097.1L467.3 1097.3L469.6 1098.2L471.9 1099.2L474.4 1099.7L477.1 1100.5L480.0 1101.0L482.0 1101.4L484.1 1101.7L486.4 1101.9L488.7 1102.0L491.0 1102.9L493.5 1103.0L495.9 1103.3L498.4 1104.1L500.9 1105.0L503.4 1104.7L505.9 1105.6L508.4 1105.8L510.9 1106.3L513.3 1106.3L515.8 1107.5L518.3 1107.2L520.7 1107.9L523.0 1108.1L525.4 1108.0L527.8 1108.9L530.2 1108.8L532.6 1109.0L535.2 1109.3L537.9 1109.7L540.6 1110.0L543.6 1110.8L546.7 1111.0L548.8 1111.7L551.0 1111.8L553.3 1112.1L555.6 1111.5L558.0 1111.9L560.5 1111.9L563.0 1112.5L565.5 1112.7L568.1 1113.1L570.7 1113.2L573.3 1112.9L575.9 1113.3L578.5 1113.6L581.2 1113.2L583.8 1113.5L586.4 1114.0L589.0 1114.0L591.6 1114.8L594.2 1114.5L596.7 1114.6L599.2 1114.9L601.7 1115.2L604.2 1115.4L606.7 1116.0L609.2 1116.2L611.7 1116.3L614.2 1116.9L616.7 1116.7L619.2 1117.7L621.7 1118.0L624.2 1118.0L626.7 1118.0L629.2 1118.3L631.7 1118.7L634.2 1118.4L636.7 1119.0L639.2 1119.4L641.7 1119.2L644.2 1119.4L646.7 1120.3L649.2 1120.1L651.8 1120.4L654.4 1121.0L657.0 1120.9L659.6 1120.8L662.2 1121.6L664.9 1121.2L667.5 1121.0L670.1 1121.8L672.7 1121.4L675.3 1121.8L677.9 1122.5L680.4 1122.5L682.9 1121.9L685.4 1122.5L687.8 1122.6L690.1 1122.9L692.4 1122.7L694.6 1123.2L696.7 1122.9L699.8 1123.3L702.6 1123.6L705.2 1124.4L707.6 1123.8L710.0 1124.7L712.2 1124.3L714.5 1124.9L716.7 1124.9L719.1 1125.2L721.5 1125.6L724.1 1125.4L726.9 1125.2L730.0 1125.3L732.1 1125.3L734.4 1126.1L736.8 1125.9L739.2 1126.3L741.7 1126.0L744.3 1125.3L746.9 1125.9L749.6 1126.0L752.3 1125.9L755.0 1125.7L757.7 1125.5L760.4 1125.5L763.1 1125.8L765.7 1125.3L768.3 1125.5L770.8 1125.4L773.2 1125.8L775.6 1125.7L777.9 1125.8L780.0 1125.6L783.2 1125.1L786.3 1124.9L789.3 1125.2L792.2 1124.9L795.1 1125.0L797.8 1125.2L800.4 1125.4L802.9 1125.0L805.3 1125.2L807.5 1124.5L809.6 1124.7L811.5 1125.4L813.3 1124.6L817.4 1125.5L819.8 1126.1L821.3 1126.9L823.3 1128.1L825.5 1127.8L827.4 1126.7L829.8 1125.3L833.3 1124.8L835.0 1124.6L836.5 1125.0L838.0 1125.0L839.6 1124.7L841.6 1124.8L844.2 1124.4L847.5 1124.9L851.7 1125.2L857.0 1125.0L858.7 1124.3L860.4 1124.6L862.3 1124.8L864.3 1124.3L866.3 1124.9L868.5 1124.4L870.7 1124.6L873.0 1124.3L875.3 1124.8L877.8 1124.5L880.2 1124.3L882.8 1123.8L885.4 1124.0L888.0 1123.6L890.7 1124.1L893.4 1124.3L896.1 1123.5L898.9 1123.8L901.7 1123.7L904.5 1123.6L907.3 1123.8L910.1 1124.0L912.9 1123.7L915.7 1123.4L918.5 1123.8L921.3 1123.1L924.1 1123.4L926.8 1123.3L929.5 1123.3L932.2 1123.3L934.8 1122.6L937.4 1122.9L940.0 1122.6L942.5 1122.8L944.9 1123.0L947.4 1122.6L949.8 1121.9L952.3 1122.2L954.7 1122.4L957.2 1122.5L959.7 1122.1L962.1 1122.2L964.6 1121.3L967.0 1122.1L969.5 1121.8L972.0 1121.6L974.4 1121.8L976.9 1121.7L979.4 1120.8L981.8 1121.4L984.3 1121.2L986.8 1120.6L989.2 1121.0L991.7 1120.7L994.2 1120.2L996.6 1120.7L999.1 1120.0L1001.6 1120.3L1004.0 1120.1L1006.5 1119.8L1008.9 1120.0L1011.4 1119.8L1013.9 1119.4L1016.3 1120.1L1018.8 1119.1L1021.2 1118.9L1023.7 1119.3L1026.2 1119.5L1028.8 1119.3L1031.3 1119.3L1033.8 1118.9L1036.3 1119.0L1038.9 1118.5L1041.4 1118.4L1043.9 1118.5L1046.5 1117.9L1049.0 1117.9L1051.5 1118.4L1054.0 1117.8L1056.6 1118.2L1059.1 1118.2L1061.6 1117.7L1064.1 1117.9L1066.7 1117.9L1069.2 1117.9L1071.7 1117.0L1074.2 1117.0L1076.7 1117.1L1079.3 1117.1L1081.8 1116.8L1084.3 1116.4L1086.8 1116.9L1089.4 1117.2L1091.9 1116.5L1094.4 1116.5L1096.9 1116.3L1099.4 1116.2L1102.0 1116.6L1104.5 1115.9L1107.0 1116.1L1109.5 1115.9L1112.1 1115.8L1114.6 1116.1L1117.2 1115.2L1119.7 1115.8L1122.3 1115.2L1124.9 1115.4L1127.5 1115.5L1130.1 1115.2L1132.7 1114.8L1135.3 1115.2L1137.9 1114.3L1140.5 1114.8L1143.1 1114.4L1145.6 1114.4L1148.2 1114.7L1150.8 1114.5L1153.4 1114.2L1155.9 1113.8L1158.5 1113.6L1161.0 1113.7L1163.5 1113.4L1166.0 1113.4L1168.5 1113.9L1171.0 1113.0L1173.5 1113.6L1175.9 1113.1L1178.3 1113.0L1180.7 1112.8L1183.1 1112.5L1185.4 1112.8L1187.7 1112.4L1190.0 1112.6L1192.8 1112.4L1195.5 1112.9L1198.2 1112.9L1200.9 1112.3L1203.6 1112.4L1206.3 1112.6L1208.9 1111.9L1211.6 1111.6L1214.1 1111.7L1216.7 1111.6L1219.3 1112.0L1221.8 1111.6L1224.3 1111.5L1226.8 1111.9L1229.3 1111.3L1231.7 1111.8L1234.1 1111.6L1236.5 1111.3L1238.9 1111.7L1241.2 1111.1L1243.6 1111.6L1245.9 1111.6L1248.1 1111.2L1250.4 1111.3L1252.6 1111.5L1254.8 1111.3L1257.0 1111.3L1259.9 1111.3L1262.8 1111.4L1265.7 1111.2L1268.5 1111.4L1271.3 1110.7L1274.1 1111.0L1276.8 1111.0L1279.5 1110.7L1282.2 1110.8L1284.8 1110.6L1287.3 1111.4L1289.8 1110.8L1292.2 1110.9L1294.5 1111.3L1296.8 1110.6L1299.0 1111.3L1301.1 1110.5L1303.2 1110.3L1305.1 1110.6L1307.0 1110.6L1310.7 1110.9L1313.8 1110.7L1316.5 1110.4L1318.9 1109.8L1321.0 1109.6L1323.0 1109.0L1325.1 1109.3L1327.4 1108.5L1330.0 1108.1L1332.3 1108.2L1334.5 1107.4L1336.7 1107.2L1339.0 1107.5L1341.3 1106.3L1343.6 1106.0L1346.1 1105.8L1348.6 1105.5L1351.2 1105.4L1354.0 1105.0L1357.0 1104.8L1359.2 1104.6L1361.5 1104.5L1363.9 1104.9L1366.4 1104.5L1369.0 1104.5L1371.6 1104.9L1374.3 1104.2L1377.0 1104.3L1379.7 1105.0L1382.4 1104.6L1385.0 1104.9L1387.6 1104.2L1390.1 1104.6L1392.5 1104.8L1394.8 1104.2L1397.0 1104.6L1399.9 1104.2L1402.6 1103.8L1405.1 1104.1L1407.4 1103.2L1409.7 1103.0L1411.9 1102.8L1414.1 1102.2L1416.3 1102.4L1418.6 1101.8L1421.1 1101.4L1423.7 1101.0L1426.1 1101.2L1428.6 1100.8L1431.1 1100.3L1433.8 1099.5L1436.5 1099.1L1439.2 1098.8L1441.9 1097.9L1444.6 1097.6L1447.3 1098.1L1449.9 1096.9L1452.4 1097.5L1454.8 1097.0L1457.0 1097.1L1460.0 1096.2L1462.9 1096.5L1465.7 1097.1L1468.3 1096.5L1470.8 1096.9L1473.2 1097.4L1475.5 1097.5L1477.8 1097.7L1480.0 1099.1L1482.8 1096.6L1485.5 1101.3L1488.1 1100.2L1490.6 1097.7L1492.9 1102.0L1495.0 1098.9L1497.0 1099.9L1499.8 1099.1L1502.0 1095.1L1503.9 1094.9L1506.0 1091.6L1508.1 1092.4L1510.1 1096.8L1512.3 1097.4L1515.0 1096.1L1517.2 1096.3L1519.8 1096.1L1522.6 1091.3L1525.3 1091.7L1527.9 1088.9L1530.0 1088.2L1532.8 1088.4L1534.7 1090.1L1537.5 1089.9L1539.7 1090.2L1542.2 1090.1L1545.0 1090.3L1547.8 1090.4L1550.3 1089.8L1552.5 1088.5L1555.3 1088.2L1557.2 1091.6L1560.0 1088.9L1562.2 1088.7L1564.8 1092.0L1567.7 1090.9L1570.5 1088.5L1573.0 1088.8L1575.0 1087.7L1576.9 1086.4L1577.9 1083.8L1578.7 1081.3L1580.0 1082.4L1581.6 1083.6L1583.5 1084.8L1585.5 1087.2L1587.4 1088.7L1589.0 1092.3L1590.8 1092.4L1592.2 1086.0L1594.0 1085.5L1595.9 1083.5L1598.1 1081.0L1600.4 1076.2L1602.5 1077.7L1604.4 1076.8L1606.2 1078.6L1608.0 1082.3L1610.0 1083.2L1611.8 1082.1L1613.7 1080.8L1615.7 1078.4L1617.8 1075.4L1620.0 1072.3L1622.4 1075.7L1625.1 1076.5L1627.8 1077.5L1630.3 1077.6L1632.5 1076.5L1633.9 1079.1L1635.2 1081.2L1636.2 1086.5L1637.2 1088.6L1638.1 1088.8L1639.0 1093.2L1640.0 1092.1L1640.9 1088.9L1641.8 1083.3L1642.8 1079.4L1644.0 1077.3L1645.9 1080.6L1648.0 1081.8L1650.3 1082.1L1652.5 1086.9L1654.6 1086.8L1656.7 1087.4L1658.8 1088.4L1661.0 1089.8L1662.7 1087.4L1664.3 1086.5L1666.0 1081.5L1667.9 1081.9L1670.0 1077.6L1671.8 1079.3L1673.8 1074.6L1676.0 1073.8L1678.2 1073.4L1680.4 1071.3L1682.3 1070.4L1684.0 1070.7L1685.6 1064.9L1686.9 1064.8L1688.0 1061.5L1689.0 1059.3L1689.9 1055.7L1691.0 1054.8L1692.4 1055.1L1693.9 1058.4L1695.3 1060.5L1696.5 1062.7L1697.5 1064.9L1697.9 1062.4L1697.9 1061.5L1697.8 1059.0L1697.8 1054.6L1698.1 1050.9L1699.0 1050.5L1700.6 1049.8L1702.7 1045.1L1705.1 1045.5L1707.7 1044.3L1710.2 1044.1L1712.5 1041.9L1715.0 1038.5L1717.4 1036.3L1719.7 1037.9L1721.9 1034.3L1724.0 1032.7L1725.9 1037.6L1727.6 1036.0L1729.2 1038.6L1730.8 1040.5L1732.5 1041.3L1735.5 1043.4L1738.4 1040.5L1741.0 1040.7L1742.7 1042.2L1744.0 1046.7L1746.0 1045.2L1747.9 1049.4L1750.0 1048.9L1752.4 1050.6L1755.0 1053.9L1757.5 1053.1L1759.7 1051.1L1761.9 1052.6L1764.2 1052.7L1766.6 1049.6L1768.8 1047.0L1771.0 1045.5L1772.6 1044.1L1774.1 1041.0L1775.6 1039.3L1777.1 1038.3L1778.6 1036.2L1780.0 1033.1L1781.3 1032.0L1782.5 1030.6L1784.3 1027.9L1785.8 1026.1L1787.2 1024.0L1788.6 1021.7L1790.0 1019.5L1791.2 1017.2L1792.4 1015.9L1793.6 1012.6L1794.8 1011.1L1796.1 1008.8L1797.5 1007.4L1799.8 1007.6L1802.3 1007.3L1804.9 1007.6L1807.5 1005.8L1808.5 1004.1L1809.5 1002.2L1810.4 1000.4L1811.4 998.4L1812.3 994.6L1813.3 993.2L1814.3 990.1L1815.3 986.5L1816.4 985.0L1817.5 982.3L1818.8 980.3L1820.3 977.5L1821.8 976.1L1823.3 974.2L1824.8 972.7L1826.3 970.6L1827.7 968.9L1828.9 967.2L1830.0 964.6L1831.2 961.8L1831.9 960.3L1832.3 957.7L1832.9 955.4L1833.7 953.1L1835.0 950.1L1835.8 948.4L1836.8 946.4L1837.9 944.7L1839.0 941.1L1840.3 939.4L1841.5 936.2L1842.8 934.6L1844.1 931.8L1845.4 928.8L1846.7 926.6L1847.9 924.7L1849.0 922.1L1850.0 920.7L1851.1 917.5L1852.1 915.2L1853.1 912.8L1854.0 910.5L1854.9 908.3L1855.8 906.1L1856.6 903.9L1857.5 901.7L1858.3 899.5L1859.1 897.3L1860.0 895.0L1860.9 892.7L1861.7 890.3L1862.6 887.9L1863.5 885.5L1864.3 883.1L1865.2 880.7L1866.0 878.4L1866.8 876.1L1867.6 873.9L1868.3 871.9L1869.0 870.0L1870.2 866.8L1871.3 863.9L1872.2 861.2L1873.2 858.8L1874.1 856.7L1875.0 855.0L1876.8 852.5L1878.4 851.3L1880.0 851.0L1881.6 851.2L1883.1 852.4L1884.5 856.0L1884.8 857.5L1885.1 859.2L1885.4 861.0L1885.7 863.1L1885.9 865.3L1886.2 867.7L1886.4 870.2L1886.7 873.0L1886.9 876.0L1887.2 879.1L1887.5 882.5L1887.7 884.5L1887.8 886.5L1888.0 888.7L1888.2 891.0L1888.3 893.3L1888.5 895.8L1888.7 898.3L1888.8 900.8L1889.0 903.4L1889.2 906.0L1889.4 908.7L1889.5 911.4L1889.7 914.1L1889.9 916.8L1890.1 919.4L1890.3 922.1L1890.4 924.8L1890.6 927.4L1890.8 930.0L1891.0 932.5L1891.2 935.0L1891.4 937.5L1891.6 940.0L1891.8 942.5L1891.9 945.0L1892.1 947.5L1892.3 950.0L1892.5 952.5L1892.7 955.0L1892.9 957.5L1893.1 960.0L1893.3 962.5L1893.5 965.0L1893.7 967.5L1893.9 970.0L1894.1 972.5L1894.3 975.0L1894.6 977.5L1894.8 980.0L1895.0 982.5L1895.2 985.0L1895.5 987.6L1895.7 990.1L1895.9 992.7L1896.2 995.3L1896.4 997.9L1896.6 1000.5L1896.9 1003.1L1897.1 1005.7L1897.4 1008.3L1897.6 1010.9L1897.9 1013.4L1898.1 1015.9L1898.4 1018.4L1898.7 1020.9L1898.9 1023.3L1899.2 1025.7L1899.5 1028.0L1899.7 1030.3L1900.0 1032.5L1900.4 1035.4L1900.7 1038.2L1901.1 1040.9L1901.5 1043.6L1901.8 1046.2L1902.2 1048.8L1902.6 1051.3L1902.9 1053.7L1903.3 1056.1L1903.7 1058.5L1904.2 1060.9L1904.6 1063.2L1905.0 1065.5L1905.5 1067.7L1906.0 1070.0L1906.6 1072.6L1907.2 1075.1L1907.9 1077.6L1908.5 1080.1L1909.2 1082.5L1909.9 1084.9L1910.6 1087.3L1911.3 1089.5L1912.1 1091.8L1912.8 1093.9L1913.5 1096.0L1914.3 1098.0L1915.0 1100.0L1916.1 1102.6L1917.1 1105.1L1918.2 1107.3L1919.2 1109.4L1920.3 1111.5L1921.4 1113.5L1922.6 1115.5L1923.8 1117.7L1925.0 1120.0L1926.2 1122.2L1927.4 1124.5L1928.7 1126.9L1930.0 1129.4L1931.3 1131.8L1932.7 1134.2L1934.0 1136.6L1935.2 1138.9L1936.4 1141.0L1937.5 1143.0L1938.9 1145.6L1940.2 1147.9L1941.3 1150.1L1942.5 1152.1L1943.6 1154.1L1944.7 1156.0L1946.0 1158.0L1947.4 1159.9L1948.8 1161.7L1950.2 1163.4L1951.7 1165.1L1953.2 1166.9L1954.6 1168.8L1956.0 1171.0L1957.2 1173.1L1958.4 1175.2L1959.5 1177.5L1960.7 1179.9L1961.8 1182.4L1962.9 1184.9L1964.0 1187.4L1965.0 1190.0L1965.9 1192.3L1966.8 1194.6L1967.6 1196.9L1968.4 1199.2L1969.2 1201.6L1970.1 1204.1L1970.9 1206.8L1971.7 1209.5L1972.5 1212.5L1973.1 1214.7L1973.7 1217.0L1974.2 1219.4L1974.8 1221.9L1975.4 1224.5L1976.0 1227.1L1976.5 1229.8L1977.1 1232.4L1977.7 1235.0L1978.3 1237.6L1978.8 1240.2L1979.4 1242.6L1980.0 1245.0L1980.7 1247.7L1981.4 1250.4L1982.0 1253.1L1982.7 1255.7L1983.4 1258.3L1984.1 1260.8L1984.8 1263.3L1985.5 1265.7L1986.1 1268.0L1986.8 1270.3L1987.5 1272.5L1988.3 1275.1L1989.1 1277.5L1989.9 1279.9L1990.8 1282.2L1991.6 1284.4L1992.4 1286.5L1993.2 1288.5L1994.1 1290.5L1995.0 1292.5L1996.2 1295.0L1997.5 1297.4L1998.8 1299.7L2000.1 1301.9L2001.4 1304.0L2002.7 1305.8L2004.0 1307.5L2006.2 1310.0L2008.3 1311.9L2010.5 1313.3L2012.5 1314.0L2015.1 1313.9L2017.5 1312.5L2020.0 1310.0L2021.1 1308.5L2022.1 1306.7L2023.2 1304.7L2024.3 1302.5L2025.4 1300.2L2026.4 1297.6L2027.5 1295.0L2028.3 1292.8L2029.2 1290.6L2030.0 1288.1L2030.8 1285.7L2031.7 1283.1L2032.5 1280.5L2033.3 1277.8L2034.2 1275.2L2035.0 1272.5L2035.8 1270.1L2036.5 1267.6L2037.3 1265.0L2038.0 1262.4L2038.8 1259.8L2039.6 1257.3L2040.3 1254.7L2041.1 1252.2L2041.8 1249.8L2042.5 1247.5L2043.4 1244.7L2044.2 1241.9L2045.1 1239.1L2045.9 1236.5L2046.7 1233.9L2047.5 1231.6L2048.3 1229.4L2049.0 1227.5L2050.3 1224.4L2051.5 1222.2L2052.7 1220.5L2054.0 1219.0L2055.8 1217.3L2057.7 1216.3L2060.0 1216.0L2062.1 1216.5L2064.3 1217.6L2066.7 1218.8L2069.0 1220.0L2071.2 1221.2L2073.3 1222.6L2075.5 1223.6L2077.5 1224.0L2079.4 1223.6L2081.3 1222.6L2083.1 1221.1L2085.0 1219.0L2086.2 1217.2L2087.5 1215.1L2088.8 1212.7L2090.0 1210.1L2091.2 1207.6L2092.5 1205.0L2093.6 1202.7L2094.6 1200.3L2095.7 1197.8L2096.8 1195.3L2097.9 1192.9L2098.9 1190.8L2100.0 1189.0L2101.9 1186.7L2103.8 1185.2L2105.6 1183.9L2107.5 1182.5L2109.4 1181.2L2111.3 1180.0L2113.2 1178.5L2115.0 1176.0L2115.8 1174.3L2116.6 1172.4L2117.3 1170.2L2118.1 1167.9L2118.8 1165.4L2119.5 1162.9L2120.2 1160.2L2121.0 1157.5L2121.6 1155.3L2122.3 1152.9L2122.9 1150.5L2123.5 1148.0L2124.2 1145.4L2124.8 1142.8L2125.5 1140.2L2126.1 1137.6L2126.8 1135.0L2127.5 1132.5L2128.2 1130.0L2129.0 1127.3L2129.7 1124.7L2130.5 1122.0L2131.3 1119.4L2132.1 1116.8L2132.8 1114.3L2133.6 1111.9L2134.3 1109.6L2135.0 1107.5L2136.1 1104.3L2137.1 1101.3L2138.1 1098.7L2139.0 1096.3L2140.0 1094.2L2141.0 1092.5L2143.2 1090.1L2145.4 1089.0L2147.5 1089.0L2149.2 1089.9L2150.8 1091.8L2152.5 1095.0L2153.4 1096.9L2154.3 1099.3L2155.2 1102.0L2156.2 1104.8L2157.1 1107.6L2158.1 1110.2L2159.0 1112.5L2160.2 1115.3L2161.4 1117.9L2162.6 1120.3L2163.8 1122.3L2165.0 1124.0L2167.0 1125.9L2169.1 1126.9L2171.0 1127.0L2172.7 1126.5L2174.4 1125.2L2176.0 1122.5L2176.7 1120.8L2177.4 1118.8L2178.1 1116.6L2178.9 1114.1L2179.6 1111.3L2180.3 1108.3L2181.0 1105.0L2181.4 1102.9L2181.8 1100.7L2182.2 1098.4L2182.7 1095.9L2183.1 1093.4L2183.5 1090.8L2183.9 1088.1L2184.3 1085.5L2184.8 1082.8L2185.2 1080.1L2185.6 1077.5L2186.0 1075.0L2186.4 1072.5L2186.8 1069.9L2187.2 1067.3L2187.7 1064.7L2188.1 1062.1L2188.5 1059.5L2188.9 1057.0L2189.3 1054.4L2189.8 1052.0L2190.2 1049.6L2190.6 1047.2L2191.0 1045.0L2191.6 1042.1L2192.1 1039.3L2192.7 1036.6L2193.2 1034.0L2193.8 1031.5L2194.3 1029.1L2194.9 1026.8L2195.4 1024.6L2196.0 1022.5L2196.8 1019.6L2197.6 1017.0L2198.4 1014.6L2199.2 1012.5L2200.1 1010.6L2201.0 1009.0L2203.0 1006.7L2205.2 1005.5L2207.5 1005.0L2209.9 1005.5L2212.4 1006.7L2215.0 1008.0L2217.2 1008.5L2219.4 1008.8L2221.8 1009.5L2224.0 1011.0L2225.2 1012.4L2226.4 1014.2L2227.6 1016.3L2228.8 1018.5L2230.0 1020.8L2231.2 1023.0L2232.5 1025.0L2234.1 1027.2L2235.7 1029.3L2237.3 1031.3L2239.0 1033.4L2240.7 1035.4L2242.5 1037.5L2244.1 1039.2L2245.8 1040.9L2247.6 1042.6L2249.4 1044.3L2251.1 1046.1L2252.6 1048.0L2254.0 1050.0L2255.1 1052.2L2256.1 1054.3L2257.0 1056.6L2257.7 1059.0L2258.4 1061.6L2259.2 1064.4L2260.0 1067.5L2260.5 1069.6L2261.1 1071.9L2261.6 1074.3L2262.2 1076.8L2262.7 1079.3L2263.2 1081.9L2263.8 1084.6L2264.3 1087.2L2264.9 1089.9L2265.4 1092.5L2266.0 1095.0L2266.6 1097.5L2267.1 1100.1L2267.7 1102.8L2268.3 1105.4L2268.9 1108.1L2269.4 1110.7L2270.0 1113.2L2270.6 1115.7L2271.3 1118.1L2271.9 1120.4L2272.5 1122.5L2273.4 1125.2L2274.3 1127.7L2275.2 1130.0L2276.2 1132.2L2277.1 1134.2L2278.1 1136.2L2279.1 1138.1L2280.0 1140.0L2281.3 1142.3L2282.5 1144.3L2283.8 1146.1L2285.0 1148.0L2286.2 1150.0L2287.5 1152.5L2288.3 1154.4L2289.2 1156.4L2290.0 1158.6L2290.8 1160.9L2291.7 1163.2L2292.5 1165.6L2293.3 1167.9L2294.2 1170.2L2295.0 1172.5L2295.8 1174.7L2296.7 1177.0L2297.5 1179.4L2298.3 1181.7L2299.2 1184.0L2300.0 1186.2L2300.8 1188.4L2301.7 1190.5L2302.5 1192.5L2303.6 1195.0L2304.7 1197.4L2305.8 1199.7L2306.9 1201.9L2308.0 1204.0L2309.0 1205.8L2310.0 1207.5L2311.6 1210.0L2313.1 1212.1L2314.5 1213.5L2316.0 1214.0L2317.6 1213.8L2319.2 1212.9L2320.8 1210.9L2322.5 1207.5L2323.1 1205.8L2323.8 1203.8L2324.5 1201.6L2325.2 1199.3L2325.9 1196.7L2326.6 1194.0L2327.3 1191.3L2328.0 1188.4L2328.7 1185.6L2329.4 1182.8L2330.0 1180.0L2330.5 1177.7L2331.0 1175.3L2331.5 1172.8L2332.0 1170.3L2332.5 1167.8L2332.9 1165.2L2333.4 1162.6L2333.8 1160.0L2334.3 1157.5L2334.7 1154.9L2335.1 1152.4L2335.6 1149.9L2336.0 1147.5L2336.5 1144.8L2336.9 1142.1L2337.3 1139.4L2337.8 1136.6L2338.2 1133.8L2338.6 1131.1L2339.0 1128.5L2339.4 1125.9L2339.8 1123.5L2340.2 1121.3L2340.6 1119.3L2341.0 1117.5L2342.1 1113.3L2343.1 1110.5L2344.0 1108.7L2345.0 1107.5L2347.0 1106.4L2349.0 1110.0L2349.3 1111.5L2349.6 1113.1L2350.0 1115.0L2350.2 1117.1L2350.5 1119.4L2350.8 1121.9L2351.1 1124.6L2351.5 1127.5L2351.8 1130.6L2352.1 1134.0L2352.5 1137.5L2352.7 1139.5L2352.9 1141.5L2353.1 1143.6L2353.3 1145.8L2353.6 1148.1L2353.8 1150.5L2354.0 1152.9L2354.2 1155.3L2354.5 1157.9L2354.7 1160.4L2354.9 1163.0L2355.2 1165.7L2355.4 1168.3L2355.7 1171.0L2355.9 1173.7L2356.2 1176.4L2356.4 1179.2L2356.7 1181.9L2357.0 1184.6L2357.2 1187.3L2357.5 1190.0L2357.7 1192.4L2358.0 1194.8L2358.2 1197.2L2358.5 1199.7L2358.8 1202.3L2359.0 1204.8L2359.3 1207.4L2359.6 1210.0L2359.8 1212.6L2360.1 1215.2L2360.4 1217.8L2360.7 1220.5L2361.0 1223.1L2361.3 1225.7L2361.5 1228.3L2361.8 1230.8L2362.1 1233.4L2362.4 1235.9L2362.7 1238.4L2362.9 1240.8L2363.2 1243.2L2363.5 1245.5L2363.7 1247.8L2364.0 1250.0L2364.3 1252.9L2364.7 1255.8L2365.0 1258.6L2365.4 1261.3L2365.7 1264.1L2366.0 1266.8L2366.4 1269.4L2366.7 1272.0L2367.0 1274.5L2367.4 1277.0L2367.7 1279.5L2368.0 1281.9L2368.3 1284.2L2368.7 1286.5L2369.0 1288.7L2369.3 1290.9L2369.7 1293.0L2370.0 1295.0L2370.5 1298.2L2371.1 1301.3L2371.6 1304.3L2372.2 1307.1L2372.7 1309.8L2373.2 1312.3L2373.8 1314.6L2374.3 1316.8L2374.9 1318.9L2375.4 1320.8L2376.0 1322.5L2377.6 1326.3L2379.2 1328.8L2380.8 1330.3L2382.5 1331.0L2384.3 1330.5L2386.2 1328.9L2388.1 1326.8L2390.0 1325.0L2391.9 1323.4L2393.8 1321.7L2395.6 1320.3L2397.5 1319.5L2400.1 1319.9L2402.7 1321.3L2405.0 1322.5L2408.0 1323.4L2410.0 1324.0"/></g>
<g fill="none" stroke="#000" stroke-width="5.8" stroke-linejoin="round" stroke-linecap="round"><path transform="translate(-0.85 0)" d="M192.0 546.7L193.4 547.1L194.9 546.9L196.7 547.3L198.6 547.3L200.7 546.7L202.9 546.7L205.4 547.8L207.9 547.2L210.7 547.2L213.6 548.2L216.6 547.6L219.7 548.2L223.0 547.8L226.5 548.1L230.0 547.6L232.0 548.2L234.1 548.5L236.3 548.2L238.5 548.5L240.9 548.4L243.3 547.8L245.8 548.7L248.4 548.5L251.0 548.2L253.7 548.0L256.4 549.0L259.1 548.6L261.8 549.0L264.6 549.2L267.3 549.1L270.1 549.4L272.8 548.8L275.5 549.3L278.2 549.0L280.9 549.6L283.5 549.6L286.1 548.7L288.6 548.8L291.0 549.0L293.4 549.9L295.7 549.3L297.9 549.6L300.0 549.3L303.1 549.6L306.2 549.5L309.1 549.5L311.9 549.9L314.7 549.9L317.3 550.3L319.9 550.1L322.4 550.5L324.9 550.4L327.3 550.7L329.6 550.3L331.9 549.8L334.1 550.7L336.4 550.8L338.5 550.8L340.7 550.5L342.9 550.7L345.0 550.2L347.9 551.0L350.8 550.8L353.6 550.5L356.3 550.3L358.9 551.4L361.4 551.6L363.9 550.6L366.3 551.6L368.6 551.2L370.8 551.0L373.0 551.3L375.0 551.9L377.0 552.1L380.3 551.4L383.3 552.3L385.9 551.8L388.2 552.9L390.5 552.6L392.7 553.4L395.0 553.6L397.6 552.9L400.0 553.3L402.4 552.3L404.7 551.7L407.2 552.2L410.0 551.4L412.2 551.7L414.5 552.0L416.9 552.3L419.3 551.9L421.8 552.0L424.5 553.2L427.2 552.9L430.0 554.1L432.1 554.3L434.1 554.1L436.2 554.7L438.3 555.3L440.4 555.9L442.6 556.4L445.0 556.9L447.4 557.5L450.1 558.4L452.9 558.4L456.0 558.7L458.0 559.3L459.9 558.9L461.9 559.1L464.0 560.1L466.1 559.7L468.2 559.8L470.4 559.3L472.7 559.9L475.0 560.2L477.4 559.6L479.9 560.5L482.4 560.6L485.1 560.1L487.9 561.0L490.7 561.0L493.7 561.5L496.8 561.5L500.0 562.2L502.0 562.5L504.1 561.9L506.2 562.3L508.3 563.3L510.6 563.9L512.8 563.4L515.2 564.0L517.5 564.5L519.9 564.6L522.4 565.0L524.8 565.3L527.3 565.8L529.9 566.4L532.4 566.5L535.0 567.0L537.6 567.8L540.2 567.3L542.8 568.4L545.4 569.0L548.1 568.9L550.7 569.2L553.3 570.2L556.0 569.9L558.6 570.3L561.2 570.9L563.8 571.6L566.4 571.2L568.9 571.8L571.5 572.1L574.0 573.0L576.4 572.8L578.8 573.6L581.3 573.0L583.7 573.4L586.1 574.0L588.5 574.6L590.9 574.3L593.3 574.2L595.8 574.3L598.2 575.0L600.6 574.8L603.0 575.7L605.5 576.0L607.9 575.4L610.3 575.7L612.8 576.5L615.2 576.5L617.7 576.9L620.1 576.5L622.6 576.4L625.0 576.8L627.5 577.6L630.0 577.2L632.5 577.4L634.9 577.7L637.4 577.9L639.9 578.1L642.4 578.9L645.0 578.2L647.5 578.2L650.0 579.5L652.4 579.7L654.8 580.0L657.2 579.5L659.7 580.4L662.1 580.5L664.6 579.9L667.1 580.8L669.6 581.1L672.1 581.1L674.6 581.1L677.1 581.1L679.6 581.4L682.1 581.5L684.6 581.5L687.2 582.3L689.7 582.2L692.2 583.0L694.7 582.3L697.2 583.6L699.7 583.5L702.2 583.7L704.7 583.9L707.2 584.1L709.6 584.1L712.1 584.1L714.5 584.6L716.9 584.5L719.3 584.7L721.7 585.1L724.1 585.2L726.4 585.3L728.7 585.6L731.0 585.6L733.7 585.7L736.3 585.8L739.0 586.2L741.7 586.2L744.3 586.4L746.9 586.3L749.5 586.4L752.1 586.6L754.7 586.8L757.3 586.7L759.9 587.0L762.4 587.1L764.9 587.1L767.4 587.2L769.9 587.0L772.4 587.3L774.8 587.4L777.3 587.2L779.6 587.3L782.0 587.4L784.4 587.5L786.7 587.6L789.0 587.6L791.2 587.8L793.5 587.6L795.7 587.7L797.9 587.8L800.0 587.8L802.9 587.9L805.8 588.4L808.5 588.5L811.2 588.3L813.8 588.6L816.4 588.6L818.9 588.7L821.4 588.8L823.8 589.1L826.2 589.2L828.6 589.2L830.9 589.2L833.3 589.4L835.6 589.4L837.9 589.6L840.3 589.8L842.7 589.7L845.1 589.7L847.5 589.8L850.0 589.9L852.5 590.1L854.9 590.2L857.2 590.1L859.5 590.3L861.8 590.3L864.1 590.2L866.3 590.2L868.6 590.3L870.8 590.4L873.1 590.3L875.5 590.4L877.8 590.3L880.3 590.2L882.8 590.4L885.4 590.4L888.1 590.2L890.9 590.4L893.8 590.4L896.8 590.6L900.0 590.7L902.1 590.5L904.1 590.7L906.3 590.7L908.4 590.5L910.6 590.6L912.9 590.5L915.1 590.9L917.4 590.8L919.8 591.0L922.1 591.0L924.5 591.0L926.9 591.0L929.4 591.0L931.8 590.9L934.3 591.1L936.9 590.9L939.4 591.0L942.0 591.3L944.6 591.1L947.2 591.1L949.9 591.2L952.5 591.5L955.2 591.3L957.9 591.3L960.6 591.6L963.3 591.4L966.1 591.7L968.8 591.7L971.6 591.8L974.4 591.8L977.2 591.7L980.0 591.8L982.3 591.5L984.6 591.8L987.1 591.8L989.6 591.8L992.1 591.6L994.7 591.9L997.3 592.0L1000.0 591.6L1002.7 591.7L1005.5 591.8L1008.2 591.9L1011.0 591.7L1013.9 591.7L1016.7 591.7L1019.6 591.9L1022.4 591.9L1025.2 591.8L1028.1 591.8L1030.9 591.8L1033.8 591.8L1036.6 591.8L1039.3 591.7L1042.1 591.8L1044.8 592.0L1047.5 591.8L1050.1 591.9L1052.7 591.7L1055.2 591.9L1057.7 592.0L1060.2 591.9L1062.5 591.9L1064.8 591.9L1067.0 591.9L1069.1 592.1L1071.2 591.8L1073.2 591.8L1075.0 592.0L1076.8 592.1L1078.4 592.0L1080.0 592.0L1085.9 592.2L1089.2 592.2L1090.7 592.4L1091.2 592.6L1091.6 593.0L1092.7 593.1L1095.2 593.3L1100.0 593.6L1101.6 593.7L1103.5 593.5L1105.4 593.6L1107.5 593.5L1109.8 593.7L1112.1 593.6L1114.6 593.5L1117.2 593.5L1119.8 593.4L1122.6 593.6L1125.4 593.5L1128.2 593.4L1131.1 593.5L1134.1 593.5L1137.0 593.7L1140.0 593.4L1143.0 593.7L1145.9 593.5L1148.9 593.6L1151.8 593.5L1154.6 593.6L1157.4 593.6L1160.2 593.5L1162.8 593.5L1165.4 593.6L1167.9 593.6L1170.2 593.4L1172.5 593.6L1174.6 593.7L1176.5 593.5L1178.4 593.4L1180.0 593.4L1185.4 593.7L1189.3 593.8L1192.0 594.1L1193.9 594.2L1195.3 594.2L1196.5 594.2L1198.0 594.3L1200.0 594.2L1202.5 594.1L1204.7 593.6L1206.8 592.9L1208.9 592.0L1211.4 591.7L1214.3 591.0L1218.0 591.0L1219.8 591.1L1221.8 591.0L1223.8 591.2L1225.9 591.7L1228.2 591.8L1230.5 592.1L1232.9 592.5L1235.3 592.9L1237.8 592.9L1240.4 593.4L1243.1 593.8L1245.8 594.1L1248.5 594.3L1251.3 594.7L1254.1 595.0L1257.0 595.0L1259.3 595.1L1261.6 595.0L1264.1 595.1L1266.7 595.3L1269.4 595.1L1272.1 595.4L1274.9 595.4L1277.7 595.1L1280.5 595.4L1283.3 595.1L1286.1 595.2L1288.9 595.2L1291.6 595.0L1294.3 595.1L1296.9 595.1L1299.4 595.1L1301.8 594.9L1304.0 595.1L1306.2 595.1L1308.2 595.0L1310.0 595.0L1313.6 595.0L1315.8 595.3L1317.1 595.5L1318.1 595.9L1319.3 596.1L1321.3 596.3L1324.7 596.3L1330.0 596.6L1331.6 596.6L1333.5 596.4L1335.4 596.7L1337.5 596.6L1339.8 596.4L1342.1 596.7L1344.6 596.3L1347.2 596.4L1349.9 596.5L1352.6 596.5L1355.4 596.4L1358.3 596.4L1361.2 596.3L1364.2 596.2L1367.2 596.1L1370.2 596.1L1373.2 596.3L1376.2 596.3L1379.2 596.2L1382.1 596.2L1385.0 596.0L1387.9 596.0L1390.7 596.0L1393.4 596.2L1396.1 595.8L1398.6 596.0L1401.1 595.9L1403.4 596.1L1405.6 595.9L1407.7 595.9L1409.6 595.9L1411.4 596.0L1413.0 596.1L1418.7 596.1L1422.0 596.6L1423.7 596.7L1424.6 597.1L1425.4 597.4L1426.9 597.7L1430.0 598.1L1431.9 598.1L1434.0 597.9L1436.2 597.9L1438.6 597.9L1441.1 598.0L1443.8 597.9L1446.4 597.8L1449.2 597.7L1452.0 597.4L1454.7 597.4L1457.5 597.2L1460.2 597.3L1462.8 597.2L1465.3 597.0L1467.7 596.9L1470.0 597.1L1472.9 596.8L1475.8 597.0L1478.7 597.0L1481.5 597.0L1484.2 596.7L1486.9 596.7L1489.4 596.7L1491.9 596.7L1494.1 596.8L1496.3 596.7L1498.2 596.6L1500.0 597.0L1503.3 597.0L1504.6 597.7L1506.1 598.3L1510.0 597.6L1511.7 598.1L1513.6 597.8L1515.7 597.4L1518.0 597.2L1520.5 596.8L1523.0 596.3L1525.7 596.2L1528.4 595.4L1531.2 595.4L1534.0 595.1L1536.7 594.5L1539.4 594.2L1542.1 594.1L1544.6 593.7L1547.0 592.7L1549.7 592.8L1552.4 592.2L1555.0 591.2L1557.6 591.0L1560.3 590.4L1562.8 589.7L1565.4 589.6L1567.9 589.4L1570.4 588.4L1572.9 588.3L1575.3 587.7L1577.7 586.8L1580.0 587.0L1582.7 586.3L1585.4 586.1L1588.1 585.5L1590.8 585.0L1593.4 584.3L1595.9 584.3L1598.3 584.0L1600.7 583.6L1602.9 583.0L1605.0 583.1L1607.0 582.7L1610.2 582.2L1612.8 581.9L1615.1 581.9L1617.3 582.2L1619.5 582.7L1622.0 584.0L1623.8 585.3L1625.5 586.7L1627.3 588.5L1629.1 590.7L1630.9 592.5L1632.8 594.5L1634.7 596.4L1636.8 597.3L1639.0 597.7L1641.1 598.4L1643.3 598.0L1645.7 597.2L1648.1 596.4L1650.6 595.5L1653.0 594.4L1655.5 592.9L1657.9 591.5L1660.3 590.4L1662.5 589.7L1664.7 588.1L1666.8 587.0L1668.8 585.5L1670.9 584.1L1672.9 582.6L1674.8 581.3L1676.8 579.7L1678.7 578.2L1680.6 576.9L1682.5 575.7L1684.8 574.6L1686.9 573.1L1688.9 571.9L1690.9 571.2L1693.0 570.0L1695.2 569.1L1697.5 567.2L1700.0 565.9L1701.8 564.8L1703.8 563.4L1705.9 561.9L1708.1 560.3L1710.3 558.7L1712.6 557.1L1714.8 555.4L1717.1 553.9L1719.2 552.4L1721.3 551.1L1723.2 549.9L1725.0 549.0L1727.8 547.8L1730.2 546.9L1732.5 546.3L1734.6 545.9L1736.7 545.8L1738.8 545.8L1741.0 546.0L1743.3 546.5L1745.7 547.5L1748.1 548.7L1750.5 549.9L1752.9 551.0L1755.2 551.8L1757.5 552.0L1759.7 551.6L1761.9 550.9L1764.1 549.8L1766.3 548.5L1768.4 547.1L1770.4 545.5L1772.5 544.0L1774.5 542.4L1776.6 540.8L1778.6 539.0L1780.5 537.1L1782.4 535.1L1784.3 533.1L1786.0 531.0L1787.4 529.0L1788.7 526.8L1790.0 524.5L1791.2 522.2L1792.4 519.9L1793.6 517.8L1794.8 516.0L1796.0 514.5L1798.6 512.9L1801.2 512.6L1803.7 512.3L1806.0 511.0L1807.3 509.5L1808.4 507.9L1809.3 505.9L1810.3 503.6L1811.3 500.8L1812.5 497.5L1813.1 495.5L1813.8 493.3L1814.4 490.9L1815.1 488.4L1815.8 485.7L1816.5 482.9L1817.3 480.1L1818.0 477.4L1818.7 474.7L1819.5 472.1L1820.2 469.7L1821.0 467.5L1822.0 464.9L1823.1 462.6L1824.1 460.6L1825.2 458.6L1826.3 456.7L1827.4 454.7L1828.5 452.6L1829.7 450.2L1831.0 447.5L1831.8 445.6L1832.7 443.5L1833.6 441.3L1834.6 439.1L1835.5 436.7L1836.5 434.3L1837.4 431.9L1838.4 429.4L1839.4 426.9L1840.3 424.5L1841.3 422.0L1842.2 419.6L1843.1 417.3L1844.0 415.0L1844.9 412.6L1845.8 410.3L1846.7 408.0L1847.6 405.7L1848.4 403.5L1849.3 401.3L1850.1 399.0L1850.9 396.8L1851.8 394.5L1852.6 392.2L1853.4 389.9L1854.2 387.5L1855.0 385.0L1855.7 382.8L1856.4 380.6L1857.1 378.3L1857.8 376.0L1858.4 373.7L1859.1 371.4L1859.8 369.0L1860.5 366.6L1861.1 364.2L1861.8 361.9L1862.4 359.5L1863.1 357.1L1863.7 354.7L1864.4 352.3L1865.0 350.0L1865.7 347.4L1866.4 344.8L1867.1 342.1L1867.8 339.3L1868.5 336.5L1869.2 333.7L1869.9 331.0L1870.6 328.3L1871.2 325.7L1871.9 323.3L1872.5 320.9L1873.0 318.7L1873.5 316.8L1874.0 315.0L1875.1 311.1L1875.8 308.5L1876.4 306.7L1876.9 305.3L1877.5 304.0L1879.2 301.5L1881.0 301.0L1882.3 301.3L1883.6 302.4L1885.0 306.0L1885.4 307.5L1885.7 309.2L1886.1 311.1L1886.5 313.2L1886.8 315.4L1887.2 317.8L1887.6 320.4L1887.9 323.2L1888.3 326.1L1888.7 329.2L1889.0 332.5L1889.2 334.5L1889.4 336.6L1889.6 338.8L1889.8 341.1L1890.0 343.4L1890.1 345.9L1890.3 348.3L1890.5 350.9L1890.7 353.5L1890.9 356.1L1891.1 358.7L1891.2 361.4L1891.4 364.1L1891.6 366.8L1891.8 369.5L1892.0 372.1L1892.1 374.8L1892.3 377.4L1892.5 380.0L1892.7 382.4L1892.8 384.9L1893.0 387.4L1893.2 389.9L1893.4 392.4L1893.5 395.0L1893.7 397.5L1893.9 400.1L1894.0 402.6L1894.2 405.2L1894.4 407.7L1894.6 410.2L1894.7 412.8L1894.9 415.3L1895.1 417.8L1895.3 420.3L1895.4 422.7L1895.6 425.2L1895.8 427.6L1896.0 430.0L1896.2 432.6L1896.4 435.3L1896.6 437.9L1896.9 440.5L1897.1 443.1L1897.3 445.6L1897.5 448.2L1897.7 450.8L1898.0 453.3L1898.2 455.8L1898.4 458.3L1898.6 460.7L1898.9 463.2L1899.1 465.6L1899.3 468.0L1899.6 470.4L1899.8 472.7L1900.0 475.0L1900.3 477.7L1900.5 480.4L1900.8 483.1L1901.0 485.7L1901.3 488.2L1901.6 490.8L1901.8 493.3L1902.1 495.8L1902.3 498.2L1902.6 500.6L1902.9 503.1L1903.1 505.4L1903.4 507.8L1903.7 510.2L1904.0 512.5L1904.3 515.2L1904.7 517.8L1905.1 520.4L1905.4 523.0L1905.8 525.6L1906.2 528.1L1906.6 530.6L1907.0 533.1L1907.4 535.5L1907.8 537.9L1908.2 540.3L1908.6 542.7L1909.0 545.0L1909.5 547.7L1910.0 550.4L1910.5 553.0L1911.0 555.6L1911.6 558.1L1912.1 560.6L1912.7 563.1L1913.2 565.5L1913.8 567.9L1914.4 570.2L1915.0 572.5L1915.8 575.2L1916.5 577.8L1917.3 580.4L1918.1 582.8L1918.9 585.3L1919.8 587.7L1920.6 590.1L1921.5 592.5L1922.5 595.0L1923.4 597.3L1924.3 599.5L1925.3 601.8L1926.3 604.0L1927.3 606.3L1928.4 608.6L1929.4 610.8L1930.5 613.1L1931.5 615.3L1932.5 617.5L1933.6 620.0L1934.8 622.6L1935.9 625.2L1937.1 627.8L1938.2 630.3L1939.4 632.8L1940.4 635.0L1941.5 637.1L1942.5 639.0L1944.2 641.7L1945.7 643.7L1947.1 645.3L1948.5 646.8L1950.0 648.5L1951.5 650.2L1952.9 651.6L1954.3 653.1L1955.8 655.1L1957.5 658.0L1958.3 659.7L1959.2 661.6L1960.1 663.7L1961.1 665.9L1962.0 668.3L1963.0 670.8L1963.9 673.3L1964.9 675.8L1965.8 678.2L1966.7 680.7L1967.5 683.0L1968.4 685.4L1969.2 687.8L1969.9 690.0L1970.7 692.3L1971.4 694.6L1972.1 697.0L1972.8 699.4L1973.5 702.1L1974.3 704.9L1975.0 708.0L1975.5 710.1L1975.9 712.3L1976.4 714.6L1976.9 717.1L1977.3 719.6L1977.8 722.2L1978.3 724.8L1978.8 727.4L1979.2 730.1L1979.7 732.7L1980.2 735.4L1980.6 738.0L1981.1 740.5L1981.6 742.9L1982.0 745.3L1982.5 747.5L1983.1 750.4L1983.7 753.1L1984.3 755.8L1984.9 758.5L1985.5 761.1L1986.1 763.6L1986.7 766.0L1987.3 768.4L1987.9 770.8L1988.6 773.0L1989.3 775.3L1990.0 777.5L1990.9 780.1L1991.8 782.6L1992.8 785.0L1993.8 787.3L1994.8 789.5L1995.9 791.7L1996.9 793.9L1998.0 795.9L1999.0 798.0L2000.0 800.0L2001.3 802.5L2002.6 805.0L2003.9 807.4L2005.2 809.8L2006.4 812.0L2007.7 814.0L2008.9 815.9L2010.0 817.5L2012.1 820.1L2013.9 822.1L2015.7 823.4L2017.5 824.0L2020.0 823.9L2022.5 822.5L2025.0 820.0L2026.1 818.5L2027.1 816.7L2028.2 814.7L2029.3 812.5L2030.4 810.2L2031.4 807.6L2032.5 805.0L2033.3 802.9L2034.2 800.6L2035.0 798.3L2035.8 795.9L2036.7 793.4L2037.5 790.8L2038.3 788.1L2039.2 785.4L2040.0 782.5L2040.6 780.2L2041.3 777.8L2041.9 775.4L2042.5 772.8L2043.2 770.2L2043.8 767.5L2044.4 764.8L2045.1 762.2L2045.7 759.6L2046.3 757.2L2046.9 754.8L2047.5 752.5L2048.3 749.6L2049.0 746.7L2049.8 743.9L2050.5 741.2L2051.3 738.6L2052.0 736.1L2052.7 733.8L2053.3 731.8L2054.0 730.0L2055.3 727.0L2056.5 725.0L2057.7 723.7L2059.0 722.5L2060.9 720.9L2062.9 719.8L2065.0 719.5L2067.4 720.5L2069.9 722.3L2072.5 724.0L2075.0 725.4L2077.5 726.7L2080.0 727.0L2081.9 726.3L2083.8 725.0L2085.6 723.2L2087.5 721.0L2088.8 719.2L2090.0 717.1L2091.2 714.8L2092.5 712.4L2093.8 709.9L2095.0 707.5L2096.1 705.3L2097.2 703.0L2098.3 700.5L2099.4 698.2L2100.4 696.0L2101.5 694.0L2102.5 692.5L2104.8 690.7L2106.9 690.2L2109.0 689.5L2111.0 688.6L2113.0 687.5L2115.0 685.0L2115.9 683.3L2116.7 681.2L2117.5 678.9L2118.4 676.4L2119.2 673.6L2120.1 670.6L2121.0 667.5L2121.6 665.4L2122.2 663.1L2122.7 660.8L2123.3 658.3L2123.9 655.8L2124.5 653.2L2125.1 650.6L2125.7 648.0L2126.3 645.3L2126.9 642.6L2127.5 640.0L2128.0 637.6L2128.6 635.1L2129.1 632.6L2129.7 630.1L2130.2 627.6L2130.8 625.0L2131.3 622.4L2131.9 619.9L2132.4 617.4L2132.9 614.9L2133.5 612.4L2134.0 610.0L2134.6 607.3L2135.1 604.6L2135.7 601.8L2136.3 599.0L2136.8 596.3L2137.4 593.6L2137.9 591.0L2138.4 588.6L2139.0 586.3L2139.5 584.3L2140.0 582.5L2141.3 578.9L2142.6 576.6L2143.8 575.2L2145.0 574.0L2147.5 572.3L2150.0 572.5L2151.6 573.5L2153.3 575.5L2155.0 579.0L2155.6 580.7L2156.3 582.8L2156.9 585.1L2157.6 587.7L2158.2 590.3L2158.9 592.9L2159.6 595.5L2160.3 597.9L2161.0 600.0L2161.9 602.5L2162.9 605.0L2163.8 607.4L2164.8 609.6L2165.7 611.7L2166.6 613.5L2167.5 615.0L2169.3 617.6L2170.9 619.1L2172.5 619.5L2174.2 619.1L2175.9 617.6L2177.5 615.0L2178.2 613.3L2178.8 611.2L2179.3 608.9L2179.9 606.3L2180.4 603.3L2181.0 600.0L2181.3 598.0L2181.7 595.9L2182.0 593.7L2182.4 591.3L2182.7 588.9L2183.1 586.4L2183.5 583.8L2183.8 581.1L2184.2 578.3L2184.6 575.4L2185.0 572.5L2185.3 570.3L2185.6 567.9L2185.9 565.5L2186.3 563.0L2186.6 560.4L2186.9 557.7L2187.3 555.1L2187.6 552.4L2188.0 549.8L2188.3 547.1L2188.6 544.5L2189.0 542.0L2189.3 539.6L2189.7 537.2L2190.0 535.0L2190.5 532.1L2190.9 529.3L2191.4 526.6L2191.8 524.0L2192.3 521.5L2192.7 519.0L2193.2 516.6L2193.6 514.3L2194.1 512.0L2194.5 509.7L2195.0 507.5L2195.6 504.8L2196.1 502.0L2196.7 499.4L2197.2 496.7L2197.8 494.2L2198.3 491.9L2198.9 489.7L2199.4 487.7L2200.0 486.0L2201.5 482.3L2203.0 480.3L2205.0 479.0L2207.2 478.6L2209.8 478.8L2212.5 479.1L2215.0 479.0L2217.3 478.0L2219.6 476.5L2221.8 475.3L2224.0 475.0L2225.7 475.7L2227.4 476.9L2229.0 478.6L2230.7 480.5L2232.5 482.5L2234.1 484.2L2235.7 486.1L2237.4 488.1L2239.1 490.3L2240.8 492.6L2242.5 495.0L2243.8 496.9L2245.1 499.0L2246.4 501.1L2247.7 503.3L2249.0 505.5L2250.2 507.8L2251.4 510.2L2252.5 512.5L2253.5 514.8L2254.4 517.1L2255.3 519.5L2256.1 521.9L2256.8 524.3L2257.6 526.9L2258.3 529.6L2259.0 532.5L2259.5 534.7L2260.0 537.0L2260.5 539.4L2260.9 541.8L2261.4 544.4L2261.8 546.9L2262.2 549.5L2262.7 552.1L2263.1 554.7L2263.6 557.4L2264.0 560.0L2264.4 562.4L2264.8 564.9L2265.2 567.4L2265.6 569.9L2266.0 572.4L2266.4 575.0L2266.8 577.6L2267.3 580.1L2267.7 582.6L2268.1 585.1L2268.5 587.6L2269.0 590.0L2269.5 592.6L2270.0 595.2L2270.5 597.8L2270.9 600.4L2271.4 603.0L2271.9 605.5L2272.5 608.0L2273.0 610.4L2273.7 612.8L2274.3 615.2L2275.0 617.5L2275.8 620.0L2276.8 622.3L2277.8 624.6L2278.8 626.9L2279.9 629.1L2281.0 631.2L2282.1 633.4L2283.1 635.6L2284.1 637.8L2285.0 640.0L2285.9 642.5L2286.8 644.9L2287.7 647.3L2288.5 649.7L2289.3 652.2L2290.1 654.6L2290.9 657.2L2291.7 659.8L2292.5 662.5L2293.2 664.8L2293.9 667.3L2294.5 669.8L2295.2 672.4L2295.9 675.1L2296.6 677.7L2297.3 680.3L2298.0 682.9L2298.6 685.4L2299.3 687.8L2300.0 690.0L2300.8 692.6L2301.7 695.2L2302.5 697.6L2303.3 700.0L2304.2 702.2L2305.0 704.4L2305.8 706.4L2306.7 708.3L2307.5 710.0L2309.0 712.8L2310.6 715.2L2312.2 717.2L2313.7 718.7L2315.0 719.5L2316.8 719.7L2318.4 718.4L2320.0 715.0L2320.6 713.3L2321.3 711.4L2321.9 709.2L2322.6 706.8L2323.2 704.2L2323.9 701.4L2324.6 698.5L2325.3 695.5L2326.0 692.5L2326.5 690.3L2327.0 688.1L2327.5 685.8L2328.0 683.4L2328.5 681.0L2329.1 678.5L2329.6 675.9L2330.1 673.3L2330.6 670.7L2331.1 668.0L2331.6 665.4L2332.0 662.7L2332.5 660.0L2332.9 657.6L2333.2 655.3L2333.6 652.8L2333.9 650.4L2334.3 647.9L2334.6 645.4L2334.9 642.8L2335.3 640.3L2335.6 637.7L2335.9 635.2L2336.2 632.6L2336.5 630.1L2336.8 627.5L2337.2 625.0L2337.5 622.5L2337.8 620.0L2338.2 617.3L2338.5 614.7L2338.9 612.0L2339.2 609.3L2339.6 606.5L2339.9 603.8L2340.3 601.2L2340.6 598.6L2340.9 596.0L2341.3 593.6L2341.6 591.2L2341.9 589.0L2342.2 586.9L2342.5 585.0L2343.1 581.3L2343.6 578.1L2344.1 575.3L2344.6 572.8L2345.1 570.8L2345.5 569.0L2346.0 567.5L2349.0 566.0L2349.4 566.9L2349.8 568.1L2350.1 569.9L2350.5 572.8L2351.0 577.5L2351.2 579.1L2351.4 580.9L2351.5 582.9L2351.7 584.9L2351.9 587.1L2352.1 589.4L2352.4 591.8L2352.6 594.2L2352.8 596.8L2353.0 599.5L2353.3 602.2L2353.5 605.0L2353.8 607.8L2354.0 610.7L2354.3 613.6L2354.5 616.5L2354.8 619.5L2355.0 622.5L2355.2 624.7L2355.4 626.9L2355.5 629.2L2355.7 631.5L2355.9 633.9L2356.1 636.3L2356.3 638.7L2356.5 641.2L2356.7 643.7L2356.9 646.2L2357.1 648.8L2357.3 651.4L2357.5 654.0L2357.7 656.6L2357.9 659.2L2358.1 661.8L2358.3 664.4L2358.5 667.0L2358.7 669.6L2358.9 672.2L2359.1 674.8L2359.3 677.4L2359.6 679.9L2359.8 682.5L2360.0 685.0L2360.2 687.5L2360.4 690.0L2360.7 692.6L2360.9 695.1L2361.1 697.7L2361.4 700.3L2361.6 702.9L2361.8 705.4L2362.1 708.0L2362.3 710.6L2362.5 713.2L2362.8 715.7L2363.0 718.3L2363.3 720.9L2363.5 723.4L2363.8 725.9L2364.0 728.4L2364.3 730.9L2364.5 733.4L2364.8 735.8L2365.0 738.2L2365.3 740.6L2365.5 742.9L2365.8 745.2L2366.0 747.5L2366.3 750.3L2366.6 753.1L2366.9 755.9L2367.3 758.7L2367.6 761.4L2367.9 764.1L2368.2 766.8L2368.6 769.5L2368.9 772.1L2369.2 774.7L2369.5 777.2L2369.9 779.7L2370.2 782.2L2370.5 784.5L2370.9 786.9L2371.2 789.1L2371.5 791.3L2371.8 793.5L2372.2 795.5L2372.5 797.5L2373.1 800.9L2373.7 804.1L2374.3 807.1L2374.9 809.9L2375.5 812.6L2376.1 815.0L2376.7 817.3L2377.3 819.4L2377.9 821.4L2378.5 823.3L2379.0 825.0L2380.3 828.9L2381.5 831.6L2382.7 833.3L2384.0 834.0L2385.4 833.7L2386.8 832.2L2388.4 830.1L2390.0 827.5L2391.0 825.7L2392.1 823.5L2393.2 821.1L2394.3 818.6L2395.4 816.2L2396.5 814.1L2397.5 812.5L2399.8 810.2L2401.9 809.3L2404.0 809.0L2406.3 809.6L2408.5 811.0L2410.0 812.0"/><path transform="translate(0.85 0)" d="M192.0 546.7L193.4 547.1L194.9 546.9L196.7 547.3L198.6 547.3L200.7 546.7L202.9 546.7L205.4 547.8L207.9 547.2L210.7 547.2L213.6 548.2L216.6 547.6L219.7 548.2L223.0 547.8L226.5 548.1L230.0 547.6L232.0 548.2L234.1 548.5L236.3 548.2L238.5 548.5L240.9 548.4L243.3 547.8L245.8 548.7L248.4 548.5L251.0 548.2L253.7 548.0L256.4 549.0L259.1 548.6L261.8 549.0L264.6 549.2L267.3 549.1L270.1 549.4L272.8 548.8L275.5 549.3L278.2 549.0L280.9 549.6L283.5 549.6L286.1 548.7L288.6 548.8L291.0 549.0L293.4 549.9L295.7 549.3L297.9 549.6L300.0 549.3L303.1 549.6L306.2 549.5L309.1 549.5L311.9 549.9L314.7 549.9L317.3 550.3L319.9 550.1L322.4 550.5L324.9 550.4L327.3 550.7L329.6 550.3L331.9 549.8L334.1 550.7L336.4 550.8L338.5 550.8L340.7 550.5L342.9 550.7L345.0 550.2L347.9 551.0L350.8 550.8L353.6 550.5L356.3 550.3L358.9 551.4L361.4 551.6L363.9 550.6L366.3 551.6L368.6 551.2L370.8 551.0L373.0 551.3L375.0 551.9L377.0 552.1L380.3 551.4L383.3 552.3L385.9 551.8L388.2 552.9L390.5 552.6L392.7 553.4L395.0 553.6L397.6 552.9L400.0 553.3L402.4 552.3L404.7 551.7L407.2 552.2L410.0 551.4L412.2 551.7L414.5 552.0L416.9 552.3L419.3 551.9L421.8 552.0L424.5 553.2L427.2 552.9L430.0 554.1L432.1 554.3L434.1 554.1L436.2 554.7L438.3 555.3L440.4 555.9L442.6 556.4L445.0 556.9L447.4 557.5L450.1 558.4L452.9 558.4L456.0 558.7L458.0 559.3L459.9 558.9L461.9 559.1L464.0 560.1L466.1 559.7L468.2 559.8L470.4 559.3L472.7 559.9L475.0 560.2L477.4 559.6L479.9 560.5L482.4 560.6L485.1 560.1L487.9 561.0L490.7 561.0L493.7 561.5L496.8 561.5L500.0 562.2L502.0 562.5L504.1 561.9L506.2 562.3L508.3 563.3L510.6 563.9L512.8 563.4L515.2 564.0L517.5 564.5L519.9 564.6L522.4 565.0L524.8 565.3L527.3 565.8L529.9 566.4L532.4 566.5L535.0 567.0L537.6 567.8L540.2 567.3L542.8 568.4L545.4 569.0L548.1 568.9L550.7 569.2L553.3 570.2L556.0 569.9L558.6 570.3L561.2 570.9L563.8 571.6L566.4 571.2L568.9 571.8L571.5 572.1L574.0 573.0L576.4 572.8L578.8 573.6L581.3 573.0L583.7 573.4L586.1 574.0L588.5 574.6L590.9 574.3L593.3 574.2L595.8 574.3L598.2 575.0L600.6 574.8L603.0 575.7L605.5 576.0L607.9 575.4L610.3 575.7L612.8 576.5L615.2 576.5L617.7 576.9L620.1 576.5L622.6 576.4L625.0 576.8L627.5 577.6L630.0 577.2L632.5 577.4L634.9 577.7L637.4 577.9L639.9 578.1L642.4 578.9L645.0 578.2L647.5 578.2L650.0 579.5L652.4 579.7L654.8 580.0L657.2 579.5L659.7 580.4L662.1 580.5L664.6 579.9L667.1 580.8L669.6 581.1L672.1 581.1L674.6 581.1L677.1 581.1L679.6 581.4L682.1 581.5L684.6 581.5L687.2 582.3L689.7 582.2L692.2 583.0L694.7 582.3L697.2 583.6L699.7 583.5L702.2 583.7L704.7 583.9L707.2 584.1L709.6 584.1L712.1 584.1L714.5 584.6L716.9 584.5L719.3 584.7L721.7 585.1L724.1 585.2L726.4 585.3L728.7 585.6L731.0 585.6L733.7 585.7L736.3 585.8L739.0 586.2L741.7 586.2L744.3 586.4L746.9 586.3L749.5 586.4L752.1 586.6L754.7 586.8L757.3 586.7L759.9 587.0L762.4 587.1L764.9 587.1L767.4 587.2L769.9 587.0L772.4 587.3L774.8 587.4L777.3 587.2L779.6 587.3L782.0 587.4L784.4 587.5L786.7 587.6L789.0 587.6L791.2 587.8L793.5 587.6L795.7 587.7L797.9 587.8L800.0 587.8L802.9 587.9L805.8 588.4L808.5 588.5L811.2 588.3L813.8 588.6L816.4 588.6L818.9 588.7L821.4 588.8L823.8 589.1L826.2 589.2L828.6 589.2L830.9 589.2L833.3 589.4L835.6 589.4L837.9 589.6L840.3 589.8L842.7 589.7L845.1 589.7L847.5 589.8L850.0 589.9L852.5 590.1L854.9 590.2L857.2 590.1L859.5 590.3L861.8 590.3L864.1 590.2L866.3 590.2L868.6 590.3L870.8 590.4L873.1 590.3L875.5 590.4L877.8 590.3L880.3 590.2L882.8 590.4L885.4 590.4L888.1 590.2L890.9 590.4L893.8 590.4L896.8 590.6L900.0 590.7L902.1 590.5L904.1 590.7L906.3 590.7L908.4 590.5L910.6 590.6L912.9 590.5L915.1 590.9L917.4 590.8L919.8 591.0L922.1 591.0L924.5 591.0L926.9 591.0L929.4 591.0L931.8 590.9L934.3 591.1L936.9 590.9L939.4 591.0L942.0 591.3L944.6 591.1L947.2 591.1L949.9 591.2L952.5 591.5L955.2 591.3L957.9 591.3L960.6 591.6L963.3 591.4L966.1 591.7L968.8 591.7L971.6 591.8L974.4 591.8L977.2 591.7L980.0 591.8L982.3 591.5L984.6 591.8L987.1 591.8L989.6 591.8L992.1 591.6L994.7 591.9L997.3 592.0L1000.0 591.6L1002.7 591.7L1005.5 591.8L1008.2 591.9L1011.0 591.7L1013.9 591.7L1016.7 591.7L1019.6 591.9L1022.4 591.9L1025.2 591.8L1028.1 591.8L1030.9 591.8L1033.8 591.8L1036.6 591.8L1039.3 591.7L1042.1 591.8L1044.8 592.0L1047.5 591.8L1050.1 591.9L1052.7 591.7L1055.2 591.9L1057.7 592.0L1060.2 591.9L1062.5 591.9L1064.8 591.9L1067.0 591.9L1069.1 592.1L1071.2 591.8L1073.2 591.8L1075.0 592.0L1076.8 592.1L1078.4 592.0L1080.0 592.0L1085.9 592.2L1089.2 592.2L1090.7 592.4L1091.2 592.6L1091.6 593.0L1092.7 593.1L1095.2 593.3L1100.0 593.6L1101.6 593.7L1103.5 593.5L1105.4 593.6L1107.5 593.5L1109.8 593.7L1112.1 593.6L1114.6 593.5L1117.2 593.5L1119.8 593.4L1122.6 593.6L1125.4 593.5L1128.2 593.4L1131.1 593.5L1134.1 593.5L1137.0 593.7L1140.0 593.4L1143.0 593.7L1145.9 593.5L1148.9 593.6L1151.8 593.5L1154.6 593.6L1157.4 593.6L1160.2 593.5L1162.8 593.5L1165.4 593.6L1167.9 593.6L1170.2 593.4L1172.5 593.6L1174.6 593.7L1176.5 593.5L1178.4 593.4L1180.0 593.4L1185.4 593.7L1189.3 593.8L1192.0 594.1L1193.9 594.2L1195.3 594.2L1196.5 594.2L1198.0 594.3L1200.0 594.2L1202.5 594.1L1204.7 593.6L1206.8 592.9L1208.9 592.0L1211.4 591.7L1214.3 591.0L1218.0 591.0L1219.8 591.1L1221.8 591.0L1223.8 591.2L1225.9 591.7L1228.2 591.8L1230.5 592.1L1232.9 592.5L1235.3 592.9L1237.8 592.9L1240.4 593.4L1243.1 593.8L1245.8 594.1L1248.5 594.3L1251.3 594.7L1254.1 595.0L1257.0 595.0L1259.3 595.1L1261.6 595.0L1264.1 595.1L1266.7 595.3L1269.4 595.1L1272.1 595.4L1274.9 595.4L1277.7 595.1L1280.5 595.4L1283.3 595.1L1286.1 595.2L1288.9 595.2L1291.6 595.0L1294.3 595.1L1296.9 595.1L1299.4 595.1L1301.8 594.9L1304.0 595.1L1306.2 595.1L1308.2 595.0L1310.0 595.0L1313.6 595.0L1315.8 595.3L1317.1 595.5L1318.1 595.9L1319.3 596.1L1321.3 596.3L1324.7 596.3L1330.0 596.6L1331.6 596.6L1333.5 596.4L1335.4 596.7L1337.5 596.6L1339.8 596.4L1342.1 596.7L1344.6 596.3L1347.2 596.4L1349.9 596.5L1352.6 596.5L1355.4 596.4L1358.3 596.4L1361.2 596.3L1364.2 596.2L1367.2 596.1L1370.2 596.1L1373.2 596.3L1376.2 596.3L1379.2 596.2L1382.1 596.2L1385.0 596.0L1387.9 596.0L1390.7 596.0L1393.4 596.2L1396.1 595.8L1398.6 596.0L1401.1 595.9L1403.4 596.1L1405.6 595.9L1407.7 595.9L1409.6 595.9L1411.4 596.0L1413.0 596.1L1418.7 596.1L1422.0 596.6L1423.7 596.7L1424.6 597.1L1425.4 597.4L1426.9 597.7L1430.0 598.1L1431.9 598.1L1434.0 597.9L1436.2 597.9L1438.6 597.9L1441.1 598.0L1443.8 597.9L1446.4 597.8L1449.2 597.7L1452.0 597.4L1454.7 597.4L1457.5 597.2L1460.2 597.3L1462.8 597.2L1465.3 597.0L1467.7 596.9L1470.0 597.1L1472.9 596.8L1475.8 597.0L1478.7 597.0L1481.5 597.0L1484.2 596.7L1486.9 596.7L1489.4 596.7L1491.9 596.7L1494.1 596.8L1496.3 596.7L1498.2 596.6L1500.0 597.0L1503.3 597.0L1504.6 597.7L1506.1 598.3L1510.0 597.6L1511.7 598.1L1513.6 597.8L1515.7 597.4L1518.0 597.2L1520.5 596.8L1523.0 596.3L1525.7 596.2L1528.4 595.4L1531.2 595.4L1534.0 595.1L1536.7 594.5L1539.4 594.2L1542.1 594.1L1544.6 593.7L1547.0 592.7L1549.7 592.8L1552.4 592.2L1555.0 591.2L1557.6 591.0L1560.3 590.4L1562.8 589.7L1565.4 589.6L1567.9 589.4L1570.4 588.4L1572.9 588.3L1575.3 587.7L1577.7 586.8L1580.0 587.0L1582.7 586.3L1585.4 586.1L1588.1 585.5L1590.8 585.0L1593.4 584.3L1595.9 584.3L1598.3 584.0L1600.7 583.6L1602.9 583.0L1605.0 583.1L1607.0 582.7L1610.2 582.2L1612.8 581.9L1615.1 581.9L1617.3 582.2L1619.5 582.7L1622.0 584.0L1623.8 585.3L1625.5 586.7L1627.3 588.5L1629.1 590.7L1630.9 592.5L1632.8 594.5L1634.7 596.4L1636.8 597.3L1639.0 597.7L1641.1 598.4L1643.3 598.0L1645.7 597.2L1648.1 596.4L1650.6 595.5L1653.0 594.4L1655.5 592.9L1657.9 591.5L1660.3 590.4L1662.5 589.7L1664.7 588.1L1666.8 587.0L1668.8 585.5L1670.9 584.1L1672.9 582.6L1674.8 581.3L1676.8 579.7L1678.7 578.2L1680.6 576.9L1682.5 575.7L1684.8 574.6L1686.9 573.1L1688.9 571.9L1690.9 571.2L1693.0 570.0L1695.2 569.1L1697.5 567.2L1700.0 565.9L1701.8 564.8L1703.8 563.4L1705.9 561.9L1708.1 560.3L1710.3 558.7L1712.6 557.1L1714.8 555.4L1717.1 553.9L1719.2 552.4L1721.3 551.1L1723.2 549.9L1725.0 549.0L1727.8 547.8L1730.2 546.9L1732.5 546.3L1734.6 545.9L1736.7 545.8L1738.8 545.8L1741.0 546.0L1743.3 546.5L1745.7 547.5L1748.1 548.7L1750.5 549.9L1752.9 551.0L1755.2 551.8L1757.5 552.0L1759.7 551.6L1761.9 550.9L1764.1 549.8L1766.3 548.5L1768.4 547.1L1770.4 545.5L1772.5 544.0L1774.5 542.4L1776.6 540.8L1778.6 539.0L1780.5 537.1L1782.4 535.1L1784.3 533.1L1786.0 531.0L1787.4 529.0L1788.7 526.8L1790.0 524.5L1791.2 522.2L1792.4 519.9L1793.6 517.8L1794.8 516.0L1796.0 514.5L1798.6 512.9L1801.2 512.6L1803.7 512.3L1806.0 511.0L1807.3 509.5L1808.4 507.9L1809.3 505.9L1810.3 503.6L1811.3 500.8L1812.5 497.5L1813.1 495.5L1813.8 493.3L1814.4 490.9L1815.1 488.4L1815.8 485.7L1816.5 482.9L1817.3 480.1L1818.0 477.4L1818.7 474.7L1819.5 472.1L1820.2 469.7L1821.0 467.5L1822.0 464.9L1823.1 462.6L1824.1 460.6L1825.2 458.6L1826.3 456.7L1827.4 454.7L1828.5 452.6L1829.7 450.2L1831.0 447.5L1831.8 445.6L1832.7 443.5L1833.6 441.3L1834.6 439.1L1835.5 436.7L1836.5 434.3L1837.4 431.9L1838.4 429.4L1839.4 426.9L1840.3 424.5L1841.3 422.0L1842.2 419.6L1843.1 417.3L1844.0 415.0L1844.9 412.6L1845.8 410.3L1846.7 408.0L1847.6 405.7L1848.4 403.5L1849.3 401.3L1850.1 399.0L1850.9 396.8L1851.8 394.5L1852.6 392.2L1853.4 389.9L1854.2 387.5L1855.0 385.0L1855.7 382.8L1856.4 380.6L1857.1 378.3L1857.8 376.0L1858.4 373.7L1859.1 371.4L1859.8 369.0L1860.5 366.6L1861.1 364.2L1861.8 361.9L1862.4 359.5L1863.1 357.1L1863.7 354.7L1864.4 352.3L1865.0 350.0L1865.7 347.4L1866.4 344.8L1867.1 342.1L1867.8 339.3L1868.5 336.5L1869.2 333.7L1869.9 331.0L1870.6 328.3L1871.2 325.7L1871.9 323.3L1872.5 320.9L1873.0 318.7L1873.5 316.8L1874.0 315.0L1875.1 311.1L1875.8 308.5L1876.4 306.7L1876.9 305.3L1877.5 304.0L1879.2 301.5L1881.0 301.0L1882.3 301.3L1883.6 302.4L1885.0 306.0L1885.4 307.5L1885.7 309.2L1886.1 311.1L1886.5 313.2L1886.8 315.4L1887.2 317.8L1887.6 320.4L1887.9 323.2L1888.3 326.1L1888.7 329.2L1889.0 332.5L1889.2 334.5L1889.4 336.6L1889.6 338.8L1889.8 341.1L1890.0 343.4L1890.1 345.9L1890.3 348.3L1890.5 350.9L1890.7 353.5L1890.9 356.1L1891.1 358.7L1891.2 361.4L1891.4 364.1L1891.6 366.8L1891.8 369.5L1892.0 372.1L1892.1 374.8L1892.3 377.4L1892.5 380.0L1892.7 382.4L1892.8 384.9L1893.0 387.4L1893.2 389.9L1893.4 392.4L1893.5 395.0L1893.7 397.5L1893.9 400.1L1894.0 402.6L1894.2 405.2L1894.4 407.7L1894.6 410.2L1894.7 412.8L1894.9 415.3L1895.1 417.8L1895.3 420.3L1895.4 422.7L1895.6 425.2L1895.8 427.6L1896.0 430.0L1896.2 432.6L1896.4 435.3L1896.6 437.9L1896.9 440.5L1897.1 443.1L1897.3 445.6L1897.5 448.2L1897.7 450.8L1898.0 453.3L1898.2 455.8L1898.4 458.3L1898.6 460.7L1898.9 463.2L1899.1 465.6L1899.3 468.0L1899.6 470.4L1899.8 472.7L1900.0 475.0L1900.3 477.7L1900.5 480.4L1900.8 483.1L1901.0 485.7L1901.3 488.2L1901.6 490.8L1901.8 493.3L1902.1 495.8L1902.3 498.2L1902.6 500.6L1902.9 503.1L1903.1 505.4L1903.4 507.8L1903.7 510.2L1904.0 512.5L1904.3 515.2L1904.7 517.8L1905.1 520.4L1905.4 523.0L1905.8 525.6L1906.2 528.1L1906.6 530.6L1907.0 533.1L1907.4 535.5L1907.8 537.9L1908.2 540.3L1908.6 542.7L1909.0 545.0L1909.5 547.7L1910.0 550.4L1910.5 553.0L1911.0 555.6L1911.6 558.1L1912.1 560.6L1912.7 563.1L1913.2 565.5L1913.8 567.9L1914.4 570.2L1915.0 572.5L1915.8 575.2L1916.5 577.8L1917.3 580.4L1918.1 582.8L1918.9 585.3L1919.8 587.7L1920.6 590.1L1921.5 592.5L1922.5 595.0L1923.4 597.3L1924.3 599.5L1925.3 601.8L1926.3 604.0L1927.3 606.3L1928.4 608.6L1929.4 610.8L1930.5 613.1L1931.5 615.3L1932.5 617.5L1933.6 620.0L1934.8 622.6L1935.9 625.2L1937.1 627.8L1938.2 630.3L1939.4 632.8L1940.4 635.0L1941.5 637.1L1942.5 639.0L1944.2 641.7L1945.7 643.7L1947.1 645.3L1948.5 646.8L1950.0 648.5L1951.5 650.2L1952.9 651.6L1954.3 653.1L1955.8 655.1L1957.5 658.0L1958.3 659.7L1959.2 661.6L1960.1 663.7L1961.1 665.9L1962.0 668.3L1963.0 670.8L1963.9 673.3L1964.9 675.8L1965.8 678.2L1966.7 680.7L1967.5 683.0L1968.4 685.4L1969.2 687.8L1969.9 690.0L1970.7 692.3L1971.4 694.6L1972.1 697.0L1972.8 699.4L1973.5 702.1L1974.3 704.9L1975.0 708.0L1975.5 710.1L1975.9 712.3L1976.4 714.6L1976.9 717.1L1977.3 719.6L1977.8 722.2L1978.3 724.8L1978.8 727.4L1979.2 730.1L1979.7 732.7L1980.2 735.4L1980.6 738.0L1981.1 740.5L1981.6 742.9L1982.0 745.3L1982.5 747.5L1983.1 750.4L1983.7 753.1L1984.3 755.8L1984.9 758.5L1985.5 761.1L1986.1 763.6L1986.7 766.0L1987.3 768.4L1987.9 770.8L1988.6 773.0L1989.3 775.3L1990.0 777.5L1990.9 780.1L1991.8 782.6L1992.8 785.0L1993.8 787.3L1994.8 789.5L1995.9 791.7L1996.9 793.9L1998.0 795.9L1999.0 798.0L2000.0 800.0L2001.3 802.5L2002.6 805.0L2003.9 807.4L2005.2 809.8L2006.4 812.0L2007.7 814.0L2008.9 815.9L2010.0 817.5L2012.1 820.1L2013.9 822.1L2015.7 823.4L2017.5 824.0L2020.0 823.9L2022.5 822.5L2025.0 820.0L2026.1 818.5L2027.1 816.7L2028.2 814.7L2029.3 812.5L2030.4 810.2L2031.4 807.6L2032.5 805.0L2033.3 802.9L2034.2 800.6L2035.0 798.3L2035.8 795.9L2036.7 793.4L2037.5 790.8L2038.3 788.1L2039.2 785.4L2040.0 782.5L2040.6 780.2L2041.3 777.8L2041.9 775.4L2042.5 772.8L2043.2 770.2L2043.8 767.5L2044.4 764.8L2045.1 762.2L2045.7 759.6L2046.3 757.2L2046.9 754.8L2047.5 752.5L2048.3 749.6L2049.0 746.7L2049.8 743.9L2050.5 741.2L2051.3 738.6L2052.0 736.1L2052.7 733.8L2053.3 731.8L2054.0 730.0L2055.3 727.0L2056.5 725.0L2057.7 723.7L2059.0 722.5L2060.9 720.9L2062.9 719.8L2065.0 719.5L2067.4 720.5L2069.9 722.3L2072.5 724.0L2075.0 725.4L2077.5 726.7L2080.0 727.0L2081.9 726.3L2083.8 725.0L2085.6 723.2L2087.5 721.0L2088.8 719.2L2090.0 717.1L2091.2 714.8L2092.5 712.4L2093.8 709.9L2095.0 707.5L2096.1 705.3L2097.2 703.0L2098.3 700.5L2099.4 698.2L2100.4 696.0L2101.5 694.0L2102.5 692.5L2104.8 690.7L2106.9 690.2L2109.0 689.5L2111.0 688.6L2113.0 687.5L2115.0 685.0L2115.9 683.3L2116.7 681.2L2117.5 678.9L2118.4 676.4L2119.2 673.6L2120.1 670.6L2121.0 667.5L2121.6 665.4L2122.2 663.1L2122.7 660.8L2123.3 658.3L2123.9 655.8L2124.5 653.2L2125.1 650.6L2125.7 648.0L2126.3 645.3L2126.9 642.6L2127.5 640.0L2128.0 637.6L2128.6 635.1L2129.1 632.6L2129.7 630.1L2130.2 627.6L2130.8 625.0L2131.3 622.4L2131.9 619.9L2132.4 617.4L2132.9 614.9L2133.5 612.4L2134.0 610.0L2134.6 607.3L2135.1 604.6L2135.7 601.8L2136.3 599.0L2136.8 596.3L2137.4 593.6L2137.9 591.0L2138.4 588.6L2139.0 586.3L2139.5 584.3L2140.0 582.5L2141.3 578.9L2142.6 576.6L2143.8 575.2L2145.0 574.0L2147.5 572.3L2150.0 572.5L2151.6 573.5L2153.3 575.5L2155.0 579.0L2155.6 580.7L2156.3 582.8L2156.9 585.1L2157.6 587.7L2158.2 590.3L2158.9 592.9L2159.6 595.5L2160.3 597.9L2161.0 600.0L2161.9 602.5L2162.9 605.0L2163.8 607.4L2164.8 609.6L2165.7 611.7L2166.6 613.5L2167.5 615.0L2169.3 617.6L2170.9 619.1L2172.5 619.5L2174.2 619.1L2175.9 617.6L2177.5 615.0L2178.2 613.3L2178.8 611.2L2179.3 608.9L2179.9 606.3L2180.4 603.3L2181.0 600.0L2181.3 598.0L2181.7 595.9L2182.0 593.7L2182.4 591.3L2182.7 588.9L2183.1 586.4L2183.5 583.8L2183.8 581.1L2184.2 578.3L2184.6 575.4L2185.0 572.5L2185.3 570.3L2185.6 567.9L2185.9 565.5L2186.3 563.0L2186.6 560.4L2186.9 557.7L2187.3 555.1L2187.6 552.4L2188.0 549.8L2188.3 547.1L2188.6 544.5L2189.0 542.0L2189.3 539.6L2189.7 537.2L2190.0 535.0L2190.5 532.1L2190.9 529.3L2191.4 526.6L2191.8 524.0L2192.3 521.5L2192.7 519.0L2193.2 516.6L2193.6 514.3L2194.1 512.0L2194.5 509.7L2195.0 507.5L2195.6 504.8L2196.1 502.0L2196.7 499.4L2197.2 496.7L2197.8 494.2L2198.3 491.9L2198.9 489.7L2199.4 487.7L2200.0 486.0L2201.5 482.3L2203.0 480.3L2205.0 479.0L2207.2 478.6L2209.8 478.8L2212.5 479.1L2215.0 479.0L2217.3 478.0L2219.6 476.5L2221.8 475.3L2224.0 475.0L2225.7 475.7L2227.4 476.9L2229.0 478.6L2230.7 480.5L2232.5 482.5L2234.1 484.2L2235.7 486.1L2237.4 488.1L2239.1 490.3L2240.8 492.6L2242.5 495.0L2243.8 496.9L2245.1 499.0L2246.4 501.1L2247.7 503.3L2249.0 505.5L2250.2 507.8L2251.4 510.2L2252.5 512.5L2253.5 514.8L2254.4 517.1L2255.3 519.5L2256.1 521.9L2256.8 524.3L2257.6 526.9L2258.3 529.6L2259.0 532.5L2259.5 534.7L2260.0 537.0L2260.5 539.4L2260.9 541.8L2261.4 544.4L2261.8 546.9L2262.2 549.5L2262.7 552.1L2263.1 554.7L2263.6 557.4L2264.0 560.0L2264.4 562.4L2264.8 564.9L2265.2 567.4L2265.6 569.9L2266.0 572.4L2266.4 575.0L2266.8 577.6L2267.3 580.1L2267.7 582.6L2268.1 585.1L2268.5 587.6L2269.0 590.0L2269.5 592.6L2270.0 595.2L2270.5 597.8L2270.9 600.4L2271.4 603.0L2271.9 605.5L2272.5 608.0L2273.0 610.4L2273.7 612.8L2274.3 615.2L2275.0 617.5L2275.8 620.0L2276.8 622.3L2277.8 624.6L2278.8 626.9L2279.9 629.1L2281.0 631.2L2282.1 633.4L2283.1 635.6L2284.1 637.8L2285.0 640.0L2285.9 642.5L2286.8 644.9L2287.7 647.3L2288.5 649.7L2289.3 652.2L2290.1 654.6L2290.9 657.2L2291.7 659.8L2292.5 662.5L2293.2 664.8L2293.9 667.3L2294.5 669.8L2295.2 672.4L2295.9 675.1L2296.6 677.7L2297.3 680.3L2298.0 682.9L2298.6 685.4L2299.3 687.8L2300.0 690.0L2300.8 692.6L2301.7 695.2L2302.5 697.6L2303.3 700.0L2304.2 702.2L2305.0 704.4L2305.8 706.4L2306.7 708.3L2307.5 710.0L2309.0 712.8L2310.6 715.2L2312.2 717.2L2313.7 718.7L2315.0 719.5L2316.8 719.7L2318.4 718.4L2320.0 715.0L2320.6 713.3L2321.3 711.4L2321.9 709.2L2322.6 706.8L2323.2 704.2L2323.9 701.4L2324.6 698.5L2325.3 695.5L2326.0 692.5L2326.5 690.3L2327.0 688.1L2327.5 685.8L2328.0 683.4L2328.5 681.0L2329.1 678.5L2329.6 675.9L2330.1 673.3L2330.6 670.7L2331.1 668.0L2331.6 665.4L2332.0 662.7L2332.5 660.0L2332.9 657.6L2333.2 655.3L2333.6 652.8L2333.9 650.4L2334.3 647.9L2334.6 645.4L2334.9 642.8L2335.3 640.3L2335.6 637.7L2335.9 635.2L2336.2 632.6L2336.5 630.1L2336.8 627.5L2337.2 625.0L2337.5 622.5L2337.8 620.0L2338.2 617.3L2338.5 614.7L2338.9 612.0L2339.2 609.3L2339.6 606.5L2339.9 603.8L2340.3 601.2L2340.6 598.6L2340.9 596.0L2341.3 593.6L2341.6 591.2L2341.9 589.0L2342.2 586.9L2342.5 585.0L2343.1 581.3L2343.6 578.1L2344.1 575.3L2344.6 572.8L2345.1 570.8L2345.5 569.0L2346.0 567.5L2349.0 566.0L2349.4 566.9L2349.8 568.1L2350.1 569.9L2350.5 572.8L2351.0 577.5L2351.2 579.1L2351.4 580.9L2351.5 582.9L2351.7 584.9L2351.9 587.1L2352.1 589.4L2352.4 591.8L2352.6 594.2L2352.8 596.8L2353.0 599.5L2353.3 602.2L2353.5 605.0L2353.8 607.8L2354.0 610.7L2354.3 613.6L2354.5 616.5L2354.8 619.5L2355.0 622.5L2355.2 624.7L2355.4 626.9L2355.5 629.2L2355.7 631.5L2355.9 633.9L2356.1 636.3L2356.3 638.7L2356.5 641.2L2356.7 643.7L2356.9 646.2L2357.1 648.8L2357.3 651.4L2357.5 654.0L2357.7 656.6L2357.9 659.2L2358.1 661.8L2358.3 664.4L2358.5 667.0L2358.7 669.6L2358.9 672.2L2359.1 674.8L2359.3 677.4L2359.6 679.9L2359.8 682.5L2360.0 685.0L2360.2 687.5L2360.4 690.0L2360.7 692.6L2360.9 695.1L2361.1 697.7L2361.4 700.3L2361.6 702.9L2361.8 705.4L2362.1 708.0L2362.3 710.6L2362.5 713.2L2362.8 715.7L2363.0 718.3L2363.3 720.9L2363.5 723.4L2363.8 725.9L2364.0 728.4L2364.3 730.9L2364.5 733.4L2364.8 735.8L2365.0 738.2L2365.3 740.6L2365.5 742.9L2365.8 745.2L2366.0 747.5L2366.3 750.3L2366.6 753.1L2366.9 755.9L2367.3 758.7L2367.6 761.4L2367.9 764.1L2368.2 766.8L2368.6 769.5L2368.9 772.1L2369.2 774.7L2369.5 777.2L2369.9 779.7L2370.2 782.2L2370.5 784.5L2370.9 786.9L2371.2 789.1L2371.5 791.3L2371.8 793.5L2372.2 795.5L2372.5 797.5L2373.1 800.9L2373.7 804.1L2374.3 807.1L2374.9 809.9L2375.5 812.6L2376.1 815.0L2376.7 817.3L2377.3 819.4L2377.9 821.4L2378.5 823.3L2379.0 825.0L2380.3 828.9L2381.5 831.6L2382.7 833.3L2384.0 834.0L2385.4 833.7L2386.8 832.2L2388.4 830.1L2390.0 827.5L2391.0 825.7L2392.1 823.5L2393.2 821.1L2394.3 818.6L2395.4 816.2L2396.5 814.1L2397.5 812.5L2399.8 810.2L2401.9 809.3L2404.0 809.0L2406.3 809.6L2408.5 811.0L2410.0 812.0"/></g>
<path d="M756.7 109.3L758.1 108.7L760.0 107.9L762.2 106.9L764.7 105.3L767.3 105.2L770.0 105.7L772.4 105.6L775.1 106.1L777.8 105.9L780.7 107.1L783.4 107.4L786.0 107.7L788.3 107.7L791.1 107.3L793.6 107.2L795.9 105.7L798.0 104.4L800.0 103.8L803.0 103.4L805.7 105.0L808.3 106.2L810.0 105.8L811.4 104.8L813.3 103.5L816.7 101.0L818.5 101.5L820.6 101.2L823.0 100.6L825.7 99.6L828.4 99.7L831.2 98.7L834.0 99.8L836.6 99.4L839.1 98.6L841.4 98.1L843.3 99.0L846.6 98.6L849.1 99.8L851.2 100.5L853.0 100.6L855.0 100.6L857.6 100.2L860.0 98.6L862.4 96.8L865.0 96.4L867.3 97.2L869.6 96.3L872.1 96.9L874.4 98.6L876.7 98.9L878.8 100.5L880.9 101.7L882.9 103.0L884.8 105.7L886.7 106.2L888.2 108.2L889.7 109.8L891.1 112.4L892.4 113.9L893.7 116.1L895.0 118.7L896.4 120.4L897.7 123.3L899.0 126.4L900.3 128.0L901.7 130.0L903.6 131.8L905.6 133.2L907.8 134.4L910.0 136.0L912.0 137.5L914.3 138.9L916.5 140.6L918.5 142.6L920.0 145.0L920.7 147.2L921.0 149.8L921.2 152.6L921.3 155.5L921.3 158.4L921.4 161.0L921.7 163.3L922.4 166.9L923.1 170.1L924.0 172.4L925.0 173.3L926.1 172.2L927.4 169.7L928.7 166.4L930.0 163.3L931.0 160.7L932.0 157.7L933.0 154.9L934.0 152.7L935.0 151.7L936.2 152.8L937.3 155.7L938.5 159.0L940.0 161.7L941.9 163.1L944.0 164.1L946.3 165.1L948.3 166.7L949.7 168.7L950.9 171.3L952.2 173.9L953.5 176.4L955.0 178.3L957.3 180.0L959.8 181.3L962.4 182.0L965.0 181.7L966.7 180.6L968.4 178.8L970.1 176.6L971.8 174.5L973.4 172.7L975.0 171.7L977.2 171.5L979.4 172.3L981.4 173.9L983.3 176.0L984.5 177.7L985.7 179.7L986.8 182.0L987.8 184.5L988.9 187.2L990.0 190.0L990.8 192.2L991.6 194.7L992.4 197.2L993.2 199.8L994.1 202.5L994.9 205.1L995.8 207.6L996.7 210.0L997.8 212.6L999.1 215.3L1000.3 217.8L1001.6 220.3L1002.8 222.6L1004.0 224.8L1005.0 226.7L1006.5 229.5L1007.6 231.8L1008.8 233.5L1010.0 235.0L1011.9 236.5L1014.0 237.3L1016.0 237.3L1018.0 236.5L1020.0 234.8L1021.7 231.7L1022.3 229.7L1022.8 227.3L1023.2 224.6L1023.6 221.7L1024.0 218.8L1024.5 215.9L1025.0 213.3L1025.6 210.8L1026.2 208.4L1026.8 206.1L1027.4 203.7L1028.2 201.4L1029.0 199.1L1030.0 196.7L1031.0 194.6L1032.1 192.4L1033.2 190.2L1034.5 188.0L1035.8 185.9L1037.2 183.8L1038.6 181.8L1040.0 180.0L1041.7 178.1L1043.6 176.2L1045.6 174.5L1047.5 172.9L1049.5 171.4L1051.5 169.8L1053.3 168.3L1055.4 166.5L1057.5 164.7L1059.6 162.9L1061.5 161.3L1063.4 159.7L1065.0 158.3L1067.0 156.3L1068.6 154.5L1070.0 153.1L1071.7 152.3L1074.3 152.6L1077.0 153.9L1080.0 155.0L1082.5 155.2L1085.1 155.1L1087.7 155.2L1090.0 156.0L1091.9 157.5L1093.6 159.5L1095.1 162.0L1096.7 165.0L1097.7 167.0L1098.6 169.4L1099.6 171.9L1100.6 174.5L1101.5 177.1L1102.4 179.5L1103.3 181.7L1104.4 184.5L1105.4 187.2L1106.4 189.6L1107.4 191.7L1108.3 193.3L1110.6 195.6L1112.7 195.0L1113.5 193.8L1114.4 192.0L1115.2 189.7L1116.0 186.8L1116.7 183.3L1117.0 181.4L1117.3 179.3L1117.6 177.0L1117.9 174.5L1118.2 171.9L1118.4 169.3L1118.7 166.6L1119.0 164.0L1119.3 161.4L1119.6 159.0L1120.0 156.7L1120.5 154.0L1120.9 151.4L1121.4 148.8L1121.9 146.3L1122.5 143.8L1123.0 141.4L1123.6 139.2L1124.3 137.0L1125.0 135.0L1126.2 132.2L1127.5 129.7L1128.8 127.4L1130.3 124.9L1131.8 124.0L1133.3 121.5L1135.1 120.3L1136.9 119.3L1138.7 117.5L1140.8 116.5L1143.3 115.2L1145.3 113.8L1147.5 113.9L1149.8 112.4L1152.3 112.3L1154.8 110.5L1157.4 110.6L1160.0 109.8L1162.3 108.9L1164.7 108.0L1167.1 106.9L1169.6 107.3L1172.1 106.1L1174.7 106.1L1177.3 104.8L1180.0 104.3L1182.4 104.2L1185.0 105.0L1187.5 103.9L1190.1 105.0L1192.8 104.0L1195.4 104.3L1198.1 103.9L1200.7 104.3L1203.3 103.3L1205.9 103.7L1208.4 104.5L1211.0 103.1L1213.5 103.7L1216.1 103.1L1218.7 103.0L1221.3 102.5L1224.0 102.5L1226.7 104.0L1229.0 103.9L1231.4 104.1L1233.9 104.3L1236.4 104.7L1238.9 103.7L1241.5 104.7L1244.0 104.8L1246.4 105.2L1248.8 106.1L1251.1 106.1L1253.3 106.7L1256.1 105.8L1258.6 107.1L1261.0 107.6L1263.3 108.2L1265.6 108.5L1268.0 109.2L1270.5 108.7L1273.3 110.0L1275.5 109.3L1277.9 109.7L1280.5 110.2L1283.1 110.0L1285.7 109.3L1288.4 109.2L1291.0 109.3L1293.5 109.7L1295.9 110.3L1298.1 110.0L1300.0 109.1L1303.5 108.8L1306.2 109.0L1308.5 107.6L1310.7 107.4L1313.3 106.5L1315.9 106.8L1318.7 107.5L1321.6 107.7L1324.3 107.9L1326.6 108.2L1328.3 108.3" fill="none" stroke="#000" stroke-width="11" stroke-linejoin="round" stroke-linecap="butt"/>
<path d="M755 311V333.3H1325V311M1039.5 311V333.3" fill="none" stroke="#000" stroke-width="7.4" stroke-linejoin="round"/>
<rect x="760.3" y="542.5" width="134.5" height="91.5" fill="none" stroke="#000" stroke-width="7.4"/>
<line x1="835.5" y1="539" x2="893" y2="411" stroke="#111" stroke-width="4.2"/>
<polygon points="902.5,389.7 877,412 907,423.4" fill="#000"/>
<text transform="translate(191.4 2023) scale(0.955 1)" font-size="88.3" font-weight="normal" text-anchor="middle" stroke="#000" stroke-width="0.6">4000</text>
<text transform="translate(560.8 2023) scale(0.955 1)" font-size="88.3" font-weight="normal" text-anchor="middle" stroke="#000" stroke-width="0.6">3400</text>
<text transform="translate(933.3 2023) scale(0.955 1)" font-size="88.3" font-weight="normal" text-anchor="middle" stroke="#000" stroke-width="0.6">2800</text>
<text transform="translate(1302 2023) scale(0.955 1)" font-size="88.3" font-weight="normal" text-anchor="middle" stroke="#000" stroke-width="0.6">2200</text>
<text transform="translate(1674.8 2023) scale(0.955 1)" font-size="88.3" font-weight="normal" text-anchor="middle" stroke="#000" stroke-width="0.6">1600</text>
<text transform="translate(2043.5 2023) scale(0.955 1)" font-size="88.3" font-weight="normal" text-anchor="middle" stroke="#000" stroke-width="0.6">1000</text>
<text transform="translate(2410 2023) scale(0.955 1)" font-size="88.3" font-weight="normal" text-anchor="middle" stroke="#000" stroke-width="0.6">400</text>
<text transform="translate(760 439) scale(0.916 1)" font-size="67.8" font-weight="normal" text-anchor="middle" stroke="#000" stroke-width="0.6">3100</text>
<text transform="translate(1041.5 439) scale(0.916 1)" font-size="67.8" font-weight="normal" text-anchor="middle" stroke="#000" stroke-width="0.6">2900</text>
<text transform="translate(1325 439) scale(0.916 1)" font-size="67.8" font-weight="normal" text-anchor="middle" stroke="#000" stroke-width="0.6">2700</text>
<text transform="translate(230.36 444.9) scale(0.908 1)" font-size="86" font-weight="bold" text-anchor="start">(c)</text>
<text transform="translate(242.46 1019.3) scale(0.975 1)" font-size="83" font-weight="bold" text-anchor="start">(b)</text>
<text transform="translate(234.18 1585) scale(0.929 1)" font-size="87" font-weight="bold" text-anchor="start">(a)</text>
<text transform="scale(0.94 1)" font-size="87" font-weight="bold" y="2198.6"><tspan x="867.6">Wavenumbers </tspan><tspan x="1480.0">(cm</tspan><tspan x="1630.6" dy="-27.7" font-size="52">−1</tspan><tspan x="1693.6" dy="27.7">)</tspan></text>
<text transform="translate(100.2 1255.3) rotate(-90) scale(0.914 1)" font-size="88" font-weight="bold">Transmittance (%)</text>
</g>
</svg>
</body></html>
